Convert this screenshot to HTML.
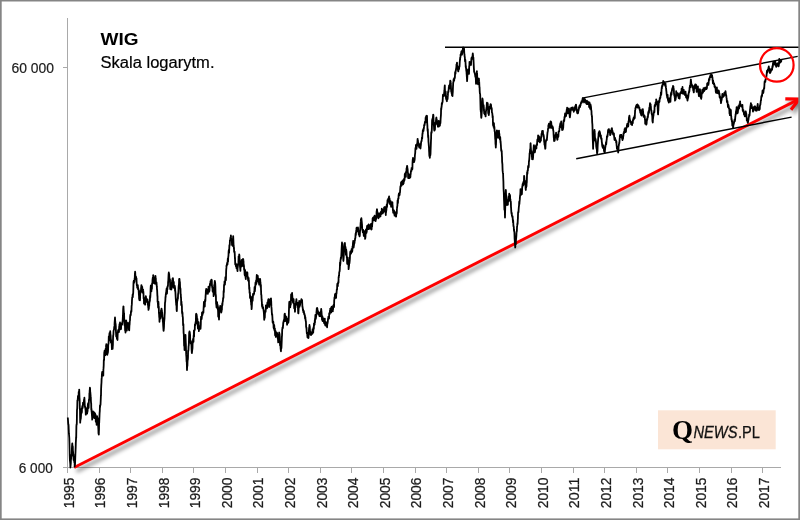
<!DOCTYPE html>
<html lang="pl"><head><meta charset="utf-8"><title>WIG - Skala logarytm.</title>
<style>
html,body{margin:0;padding:0;background:#fff;}
body{width:800px;height:520px;overflow:hidden;position:relative;font-family:"Liberation Sans",sans-serif;}
svg{position:absolute;left:0;top:0;display:block;}
.frame{position:absolute;left:0;top:0;width:800px;height:520px;box-sizing:border-box;border:1.5px solid #868686;border-right-width:2px;pointer-events:none;}
</style></head><body>
<svg width="800" height="520" viewBox="0 0 800 520" font-family="Liberation Sans, sans-serif">
<defs>
<filter id="sh" x="-5%" y="-5%" width="110%" height="115%"><feGaussianBlur stdDeviation="2"/></filter>
</defs>
<rect width="800" height="520" fill="#fff"/>
<!-- axes -->
<g stroke="#a9a9a9" stroke-width="1" fill="none" shape-rendering="crispEdges">
<line x1="67.5" y1="18" x2="67.5" y2="467.5"/>
<line x1="67" y1="467" x2="781" y2="467"/>
<line x1="63" y1="67" x2="67.5" y2="67"/>
<line x1="63" y1="467" x2="67.5" y2="467"/>
<line x1="67.5" y1="467" x2="67.5" y2="472.5"/><line x1="99.1" y1="467" x2="99.1" y2="472.5"/><line x1="130.7" y1="467" x2="130.7" y2="472.5"/><line x1="162.3" y1="467" x2="162.3" y2="472.5"/><line x1="193.9" y1="467" x2="193.9" y2="472.5"/><line x1="225.5" y1="467" x2="225.5" y2="472.5"/><line x1="257.1" y1="467" x2="257.1" y2="472.5"/><line x1="288.7" y1="467" x2="288.7" y2="472.5"/><line x1="320.3" y1="467" x2="320.3" y2="472.5"/><line x1="351.9" y1="467" x2="351.9" y2="472.5"/><line x1="383.5" y1="467" x2="383.5" y2="472.5"/><line x1="415.1" y1="467" x2="415.1" y2="472.5"/><line x1="446.7" y1="467" x2="446.7" y2="472.5"/><line x1="478.3" y1="467" x2="478.3" y2="472.5"/><line x1="509.9" y1="467" x2="509.9" y2="472.5"/><line x1="541.5" y1="467" x2="541.5" y2="472.5"/><line x1="573.1" y1="467" x2="573.1" y2="472.5"/><line x1="604.7" y1="467" x2="604.7" y2="472.5"/><line x1="636.3" y1="467" x2="636.3" y2="472.5"/><line x1="667.9" y1="467" x2="667.9" y2="472.5"/><line x1="699.5" y1="467" x2="699.5" y2="472.5"/><line x1="731.1" y1="467" x2="731.1" y2="472.5"/><line x1="762.7" y1="467" x2="762.7" y2="472.5"/>
</g>
<g font-size="14.6" fill="#1c1c1c" stroke="#1c1c1c" stroke-width="0.25"><text transform="translate(73.7,508.3) rotate(-90)" textLength="30.8" lengthAdjust="spacingAndGlyphs">1995</text><text transform="translate(105.3,508.3) rotate(-90)" textLength="30.8" lengthAdjust="spacingAndGlyphs">1996</text><text transform="translate(136.9,508.3) rotate(-90)" textLength="30.8" lengthAdjust="spacingAndGlyphs">1997</text><text transform="translate(168.5,508.3) rotate(-90)" textLength="30.8" lengthAdjust="spacingAndGlyphs">1998</text><text transform="translate(200.1,508.3) rotate(-90)" textLength="30.8" lengthAdjust="spacingAndGlyphs">1999</text><text transform="translate(231.7,508.3) rotate(-90)" textLength="30.8" lengthAdjust="spacingAndGlyphs">2000</text><text transform="translate(263.3,508.3) rotate(-90)" textLength="30.8" lengthAdjust="spacingAndGlyphs">2001</text><text transform="translate(294.9,508.3) rotate(-90)" textLength="30.8" lengthAdjust="spacingAndGlyphs">2002</text><text transform="translate(326.5,508.3) rotate(-90)" textLength="30.8" lengthAdjust="spacingAndGlyphs">2003</text><text transform="translate(358.1,508.3) rotate(-90)" textLength="30.8" lengthAdjust="spacingAndGlyphs">2004</text><text transform="translate(389.7,508.3) rotate(-90)" textLength="30.8" lengthAdjust="spacingAndGlyphs">2005</text><text transform="translate(421.3,508.3) rotate(-90)" textLength="30.8" lengthAdjust="spacingAndGlyphs">2006</text><text transform="translate(452.9,508.3) rotate(-90)" textLength="30.8" lengthAdjust="spacingAndGlyphs">2007</text><text transform="translate(484.5,508.3) rotate(-90)" textLength="30.8" lengthAdjust="spacingAndGlyphs">2008</text><text transform="translate(516.1,508.3) rotate(-90)" textLength="30.8" lengthAdjust="spacingAndGlyphs">2009</text><text transform="translate(547.7,508.3) rotate(-90)" textLength="30.8" lengthAdjust="spacingAndGlyphs">2010</text><text transform="translate(579.3,508.3) rotate(-90)" textLength="30.8" lengthAdjust="spacingAndGlyphs">2011</text><text transform="translate(610.9,508.3) rotate(-90)" textLength="30.8" lengthAdjust="spacingAndGlyphs">2012</text><text transform="translate(642.5,508.3) rotate(-90)" textLength="30.8" lengthAdjust="spacingAndGlyphs">2013</text><text transform="translate(674.1,508.3) rotate(-90)" textLength="30.8" lengthAdjust="spacingAndGlyphs">2014</text><text transform="translate(705.7,508.3) rotate(-90)" textLength="30.8" lengthAdjust="spacingAndGlyphs">2015</text><text transform="translate(737.3,508.3) rotate(-90)" textLength="30.8" lengthAdjust="spacingAndGlyphs">2016</text><text transform="translate(768.9,508.3) rotate(-90)" textLength="30.8" lengthAdjust="spacingAndGlyphs">2017</text></g>
<g font-size="14" fill="#1c1c1c" stroke="#1c1c1c" stroke-width="0.2">
<text x="11.5" y="73.2" textLength="42.5" lengthAdjust="spacingAndGlyphs">60 000</text>
<text x="18.8" y="473.2" textLength="34" lengthAdjust="spacingAndGlyphs">6 000</text>
</g>
<text x="100.5" y="44.5" font-size="16.8" font-weight="bold" fill="#000" textLength="38" lengthAdjust="spacingAndGlyphs">WIG</text>
<text x="100.5" y="68.3" font-size="17.3" fill="#000" stroke="#000" stroke-width="0.2" textLength="114" lengthAdjust="spacingAndGlyphs">Skala logarytm.</text>
<!-- logo -->
<rect x="658" y="410.3" width="117.7" height="39" fill="#fbe5d6"/>
<text x="672" y="439" font-family="Liberation Serif, serif" font-weight="bold" font-size="26.5" fill="#000" textLength="21" lengthAdjust="spacingAndGlyphs">Q</text>
<text x="693.5" y="438.2" font-style="italic" font-size="16.2" fill="#111" stroke="#111" stroke-width="0.3" textLength="44" lengthAdjust="spacingAndGlyphs">NEWS</text>
<text x="738" y="438.2" font-size="16.2" fill="#111" stroke="#111" stroke-width="0.25" textLength="22" lengthAdjust="spacingAndGlyphs">.PL</text>
<!-- red trend w/ shadow -->
<g transform="translate(2.4,3.6)" stroke="#000" stroke-opacity="0.48" stroke-width="3" fill="none" filter="url(#sh)">
<line x1="74.2" y1="467.5" x2="798.5" y2="99.3"/>
<polyline points="785.3,98.8 799.3,99.1 791,109.8" stroke-linejoin="miter"/>
</g>
<g stroke="#fe0000" stroke-width="2.9" fill="none" stroke-linecap="butt" stroke-linejoin="miter">
<line x1="74.2" y1="467.5" x2="797.5" y2="99.9"/>
<polyline points="785.3,98.8 799.3,99.1 791,109.8" stroke-width="3.2"/>
</g>
<!-- trend lines -->
<g stroke="#000" stroke-width="1.4" fill="none">
<line x1="445" y1="47.2" x2="800" y2="47.2"/>
<line x1="582" y1="98.1" x2="797.7" y2="56.4"/>
<line x1="576.2" y1="158.8" x2="791.6" y2="117.1"/>
</g>
<!-- price -->
<path d="M67.8,417.5 L67.9,418.9 L68.1,421.8 L68.2,423.2 L68.3,424.5 L68.5,424.5 L68.6,426.0 L68.7,429.1 L68.8,430.8 L68.9,433.7 L69.1,435.1 L69.2,436.8 L69.3,438.0 L69.4,441.5 L69.6,450.0 L69.7,455.2 L69.9,460.4 L70.0,461.2 L70.1,461.9 L70.3,464.3 L70.4,467.5 L70.5,466.3 L70.7,464.3 L70.8,463.5 L70.9,460.4 L71.0,459.2 L71.2,458.2 L71.3,455.0 L71.4,456.4 L71.5,455.5 L71.7,455.9 L71.8,452.7 L71.9,449.2 L72.0,446.5 L72.2,444.2 L72.3,443.5 L72.4,445.7 L72.5,446.4 L72.7,446.2 L72.8,446.8 L72.9,450.9 L73.0,450.9 L73.1,453.1 L73.3,455.6 L73.4,454.2 L73.5,456.0 L73.6,460.0 L73.7,457.3 L73.9,458.0 L74.0,459.1 L74.1,458.8 L74.2,461.2 L74.3,462.4 L74.5,460.8 L74.6,463.8 L74.7,466.5 L74.8,465.2 L75.0,465.0 L75.1,462.6 L75.2,459.7 L75.4,453.9 L75.5,452.0 L75.6,449.3 L75.7,446.9 L75.8,442.9 L76.0,439.5 L76.1,436.9 L76.2,438.0 L76.3,431.5 L76.4,426.1 L76.6,424.1 L76.7,424.6 L76.8,423.3 L76.9,417.0 L77.0,409.9 L77.2,408.5 L77.3,404.9 L77.4,400.5 L77.5,400.4 L77.7,400.5 L77.8,398.7 L77.9,397.0 L78.0,395.8 L78.2,396.9 L78.3,396.0 L78.4,396.0 L78.6,396.1 L78.7,392.0 L78.8,393.6 L78.9,394.5 L79.1,394.5 L79.2,389.6 L79.3,392.4 L79.5,398.3 L79.6,398.7 L79.7,402.5 L79.8,408.6 L80.0,410.1 L80.1,417.5 L80.2,422.7 L80.3,420.8 L80.5,419.8 L80.6,419.5 L80.7,418.1 L80.8,418.8 L81.0,415.9 L81.1,413.5 L81.2,413.9 L81.4,412.4 L81.5,409.0 L81.6,410.4 L81.7,412.9 L81.9,411.6 L82.0,408.3 L82.1,407.6 L82.2,406.9 L82.4,405.8 L82.5,408.2 L82.6,405.7 L82.7,407.7 L82.9,404.7 L83.0,402.7 L83.1,403.5 L83.2,404.4 L83.4,404.8 L83.5,404.1 L83.6,403.0 L83.8,402.0 L83.9,401.8 L84.0,400.1 L84.1,399.3 L84.3,399.1 L84.4,397.7 L84.5,399.7 L84.6,401.4 L84.8,405.9 L84.9,407.1 L85.0,406.7 L85.1,406.5 L85.3,407.0 L85.4,409.3 L85.5,409.2 L85.6,410.5 L85.8,414.7 L85.9,410.0 L86.0,408.3 L86.1,408.6 L86.2,409.2 L86.4,409.4 L86.5,408.4 L86.6,409.5 L86.8,409.8 L86.9,408.6 L87.0,413.2 L87.1,413.7 L87.2,412.4 L87.4,412.0 L87.5,411.4 L87.6,411.0 L87.8,405.4 L87.9,404.2 L88.0,406.0 L88.1,403.4 L88.2,403.1 L88.4,404.8 L88.5,406.3 L88.6,408.0 L88.8,403.2 L88.9,401.2 L89.0,399.2 L89.2,399.1 L89.3,400.0 L89.4,393.3 L89.5,394.2 L89.7,390.0 L89.8,390.0 L89.9,387.7 L90.1,388.7 L90.2,391.8 L90.3,392.1 L90.4,393.2 L90.6,395.5 L90.7,396.4 L90.8,396.9 L90.9,400.6 L91.1,403.4 L91.2,403.5 L91.3,410.0 L91.5,408.8 L91.6,411.6 L91.7,412.1 L91.8,413.4 L92.0,415.9 L92.1,417.3 L92.2,419.6 L92.3,417.6 L92.5,415.6 L92.6,417.9 L92.7,417.0 L92.8,414.6 L93.0,411.3 L93.1,413.4 L93.2,414.6 L93.3,417.1 L93.5,414.9 L93.6,414.5 L93.7,411.9 L93.8,413.0 L94.0,415.8 L94.1,413.7 L94.2,416.4 L94.3,418.0 L94.5,417.3 L94.6,413.0 L94.7,415.5 L94.8,414.9 L95.0,413.4 L95.1,413.8 L95.2,414.3 L95.3,416.9 L95.5,414.6 L95.6,416.5 L95.7,419.1 L95.8,421.7 L96.0,420.9 L96.1,419.1 L96.2,420.8 L96.3,421.3 L96.5,421.7 L96.6,424.8 L96.7,424.5 L96.8,420.2 L97.0,419.6 L97.1,416.2 L97.2,418.0 L97.4,418.9 L97.5,417.9 L97.6,418.2 L97.8,420.3 L97.9,420.8 L98.0,423.8 L98.1,424.1 L98.2,426.5 L98.4,429.9 L98.5,433.4 L98.6,432.5 L98.8,434.6 L98.9,431.2 L99.0,429.4 L99.1,423.2 L99.2,423.0 L99.4,418.2 L99.5,415.8 L99.6,413.1 L99.8,410.8 L99.9,407.3 L100.0,405.4 L100.1,407.2 L100.2,405.5 L100.4,404.7 L100.5,404.9 L100.6,402.7 L100.8,398.4 L100.9,395.5 L101.0,395.8 L101.1,389.3 L101.3,384.9 L101.4,383.8 L101.5,382.2 L101.6,379.0 L101.8,377.4 L101.9,374.6 L102.0,373.6 L102.2,371.9 L102.3,372.0 L102.4,375.3 L102.5,375.5 L102.7,375.1 L102.8,375.0 L102.9,373.3 L103.0,374.4 L103.2,373.5 L103.3,375.6 L103.4,369.3 L103.5,368.4 L103.7,365.5 L103.8,360.0 L103.9,360.8 L104.1,359.7 L104.2,354.6 L104.3,352.3 L104.4,352.2 L104.6,350.7 L104.7,351.7 L104.8,352.6 L104.9,353.3 L105.1,353.3 L105.2,355.4 L105.3,355.2 L105.5,354.5 L105.6,348.8 L105.7,349.0 L105.8,350.0 L106.0,347.9 L106.1,345.4 L106.2,347.7 L106.3,344.1 L106.5,344.9 L106.6,349.6 L106.7,347.6 L106.8,348.8 L107.0,352.5 L107.1,352.1 L107.2,353.1 L107.3,354.8 L107.5,352.9 L107.6,352.5 L107.7,353.0 L107.8,353.1 L108.0,351.5 L108.1,349.6 L108.2,346.0 L108.3,343.8 L108.5,344.0 L108.6,342.7 L108.7,339.5 L108.8,336.3 L109.0,340.1 L109.1,340.8 L109.2,340.6 L109.4,333.9 L109.5,333.6 L109.6,333.0 L109.7,334.8 L109.9,334.2 L110.0,332.5 L110.1,334.3 L110.2,331.2 L110.4,334.0 L110.5,335.4 L110.6,334.8 L110.8,338.2 L110.9,342.6 L111.0,340.6 L111.1,340.0 L111.2,341.4 L111.4,342.5 L111.5,342.5 L111.6,341.3 L111.8,346.3 L111.9,349.1 L112.0,347.5 L112.1,343.5 L112.2,345.6 L112.4,346.3 L112.5,348.6 L112.6,348.9 L112.8,345.9 L112.9,345.1 L113.0,339.4 L113.1,336.6 L113.2,335.2 L113.4,334.9 L113.5,332.2 L113.6,330.6 L113.8,330.2 L113.9,329.7 L114.0,329.6 L114.1,328.8 L114.2,326.8 L114.4,327.1 L114.5,325.9 L114.6,322.9 L114.8,320.3 L114.9,319.0 L115.0,317.5 L115.1,319.5 L115.2,321.2 L115.4,323.2 L115.5,324.6 L115.6,323.7 L115.8,326.2 L115.9,330.0 L116.0,332.6 L116.1,333.8 L116.2,336.4 L116.4,336.1 L116.5,334.0 L116.6,335.8 L116.8,335.6 L116.9,338.8 L117.0,338.3 L117.1,334.7 L117.2,334.3 L117.4,339.1 L117.5,340.0 L117.6,335.7 L117.8,332.6 L117.9,332.0 L118.0,331.5 L118.1,330.2 L118.2,331.6 L118.4,331.5 L118.5,329.8 L118.6,329.4 L118.8,331.2 L118.9,331.5 L119.0,332.0 L119.1,328.3 L119.2,326.4 L119.4,326.3 L119.5,324.1 L119.6,324.7 L119.8,324.3 L119.9,324.5 L120.0,322.5 L120.1,326.5 L120.2,327.8 L120.4,326.3 L120.5,325.4 L120.6,329.4 L120.8,327.6 L120.9,328.3 L121.0,329.1 L121.1,328.0 L121.2,324.6 L121.4,323.8 L121.5,323.4 L121.6,324.6 L121.8,325.0 L121.9,324.0 L122.0,324.6 L122.1,324.5 L122.2,323.8 L122.4,322.8 L122.5,321.2 L122.6,321.5 L122.8,318.3 L122.9,315.9 L123.0,314.8 L123.1,310.7 L123.2,308.8 L123.4,306.3 L123.5,306.5 L123.6,309.2 L123.8,311.9 L123.9,313.4 L124.0,314.5 L124.1,313.3 L124.2,318.5 L124.4,321.1 L124.5,324.9 L124.6,324.7 L124.8,325.9 L124.9,323.8 L125.0,327.0 L125.1,330.4 L125.2,328.2 L125.4,329.7 L125.5,332.5 L125.6,329.2 L125.8,325.8 L125.9,324.0 L126.0,323.0 L126.1,320.4 L126.2,320.7 L126.4,321.5 L126.5,323.0 L126.6,324.7 L126.8,327.9 L126.9,330.5 L127.0,328.2 L127.1,327.4 L127.2,325.6 L127.4,323.7 L127.5,323.8 L127.6,324.7 L127.8,326.7 L127.9,324.5 L128.0,323.0 L128.1,324.0 L128.2,324.6 L128.4,324.9 L128.5,325.8 L128.6,325.3 L128.8,327.6 L128.9,329.3 L129.0,330.2 L129.1,329.8 L129.2,330.4 L129.4,326.0 L129.5,325.0 L129.6,324.5 L129.8,320.8 L129.9,320.6 L130.0,320.3 L130.1,316.9 L130.2,315.8 L130.4,314.6 L130.5,314.9 L130.6,315.5 L130.8,314.8 L130.9,312.5 L131.0,311.5 L131.1,310.8 L131.2,311.6 L131.4,311.6 L131.5,309.6 L131.6,306.2 L131.8,304.9 L131.9,302.8 L132.0,299.9 L132.1,299.1 L132.2,297.5 L132.4,297.1 L132.5,297.5 L132.6,294.7 L132.8,297.3 L132.9,294.6 L133.0,294.8 L133.1,293.1 L133.2,293.3 L133.4,286.5 L133.5,283.0 L133.6,281.5 L133.8,280.7 L133.9,283.3 L134.0,281.9 L134.1,282.5 L134.2,282.0 L134.4,281.9 L134.5,280.9 L134.6,278.6 L134.8,277.6 L134.9,273.4 L135.0,273.8 L135.1,271.7 L135.2,272.2 L135.4,276.4 L135.5,276.0 L135.6,276.0 L135.8,278.3 L135.9,278.4 L136.0,276.7 L136.1,277.2 L136.2,278.4 L136.4,279.8 L136.5,278.3 L136.6,281.7 L136.8,285.1 L136.9,285.1 L137.0,285.6 L137.1,284.8 L137.2,287.6 L137.4,286.2 L137.5,287.5 L137.6,286.5 L137.8,285.1 L137.9,286.6 L138.0,289.2 L138.1,289.2 L138.2,287.8 L138.4,289.4 L138.5,289.3 L138.6,290.0 L138.8,293.0 L138.9,295.2 L139.0,294.2 L139.1,298.8 L139.2,298.8 L139.4,300.1 L139.5,298.5 L139.6,298.2 L139.8,294.5 L139.9,297.8 L140.0,300.3 L140.1,297.6 L140.2,294.4 L140.4,290.9 L140.5,293.0 L140.6,291.8 L140.8,291.5 L140.9,290.6 L141.0,290.1 L141.1,287.7 L141.2,287.5 L141.4,285.1 L141.5,285.4 L141.6,286.5 L141.8,287.9 L141.9,287.9 L142.0,286.6 L142.1,287.3 L142.2,286.8 L142.4,290.4 L142.5,292.4 L142.6,292.7 L142.8,292.2 L142.9,291.3 L143.0,289.9 L143.1,289.6 L143.2,290.7 L143.4,292.2 L143.5,293.8 L143.6,298.4 L143.8,297.5 L143.9,297.8 L144.0,303.6 L144.1,300.2 L144.2,299.4 L144.4,300.0 L144.5,300.6 L144.6,301.7 L144.8,301.4 L144.9,302.4 L145.0,302.8 L145.1,304.6 L145.2,301.1 L145.4,299.6 L145.5,299.8 L145.6,298.0 L145.8,296.2 L145.9,297.7 L146.0,296.7 L146.1,298.2 L146.2,300.0 L146.4,300.8 L146.5,301.9 L146.6,301.8 L146.8,299.2 L146.9,299.2 L147.0,300.3 L147.1,299.4 L147.2,299.3 L147.4,301.0 L147.5,299.3 L147.6,300.8 L147.8,304.6 L147.9,303.7 L148.0,304.1 L148.1,303.9 L148.2,307.2 L148.4,307.9 L148.5,309.9 L148.6,308.6 L148.8,308.8 L148.9,307.8 L149.0,303.3 L149.1,305.3 L149.2,306.2 L149.4,301.8 L149.5,302.4 L149.6,301.2 L149.8,301.2 L149.9,301.0 L150.0,297.1 L150.1,295.7 L150.2,297.8 L150.4,295.7 L150.5,292.8 L150.6,289.1 L150.8,285.8 L150.9,285.5 L151.0,288.0 L151.1,287.9 L151.2,287.5 L151.4,291.4 L151.5,289.8 L151.6,287.9 L151.8,288.4 L151.9,288.9 L152.0,286.3 L152.1,283.4 L152.2,283.4 L152.4,283.4 L152.5,280.2 L152.6,279.2 L152.8,277.6 L152.9,278.0 L153.0,277.2 L153.1,276.4 L153.2,275.2 L153.4,276.7 L153.5,278.9 L153.6,277.6 L153.8,278.8 L153.9,277.6 L154.0,278.0 L154.1,279.9 L154.2,283.2 L154.4,282.8 L154.5,283.0 L154.6,283.7 L154.8,281.0 L154.9,281.4 L155.0,280.3 L155.1,281.4 L155.2,279.5 L155.4,275.8 L155.5,276.2 L155.6,278.1 L155.8,278.3 L155.9,281.3 L156.0,282.1 L156.1,282.1 L156.2,284.4 L156.4,282.6 L156.5,282.5 L156.6,283.7 L156.8,286.7 L156.9,287.7 L157.0,289.6 L157.1,289.6 L157.2,291.5 L157.4,296.1 L157.5,296.0 L157.6,302.0 L157.8,302.0 L157.9,303.4 L158.0,305.0 L158.1,307.5 L158.2,305.4 L158.4,301.7 L158.5,303.3 L158.6,305.4 L158.8,307.0 L158.9,312.7 L159.0,313.6 L159.1,314.5 L159.2,316.8 L159.4,318.0 L159.5,321.8 L159.6,319.7 L159.8,319.4 L159.9,312.9 L160.0,315.0 L160.1,313.5 L160.2,314.7 L160.4,318.3 L160.5,317.6 L160.6,316.4 L160.8,314.6 L160.9,312.3 L161.0,310.3 L161.1,310.9 L161.2,310.2 L161.4,309.7 L161.5,308.6 L161.6,309.7 L161.8,310.0 L161.9,310.7 L162.0,313.0 L162.1,313.7 L162.2,312.4 L162.4,316.3 L162.5,318.3 L162.6,317.4 L162.8,320.5 L162.9,322.2 L163.0,320.1 L163.1,324.3 L163.2,326.0 L163.4,328.8 L163.5,330.1 L163.6,330.8 L163.8,328.8 L163.9,328.3 L164.0,326.1 L164.1,323.1 L164.2,321.5 L164.4,319.3 L164.5,318.3 L164.6,315.2 L164.8,312.8 L164.9,306.2 L165.0,303.0 L165.1,302.0 L165.2,302.3 L165.4,299.3 L165.5,296.7 L165.6,297.5 L165.8,294.5 L165.9,293.6 L166.0,294.7 L166.1,292.4 L166.2,292.5 L166.4,290.2 L166.5,289.8 L166.6,288.8 L166.8,288.1 L166.9,289.5 L167.0,293.5 L167.1,291.3 L167.2,289.3 L167.4,289.4 L167.5,286.4 L167.6,286.6 L167.8,286.8 L167.9,285.4 L168.0,285.6 L168.1,281.7 L168.2,282.3 L168.4,278.4 L168.5,276.1 L168.6,274.2 L168.8,272.5 L168.9,274.3 L169.0,274.5 L169.1,273.7 L169.2,274.9 L169.4,278.1 L169.5,278.1 L169.6,278.9 L169.8,281.4 L169.9,282.0 L170.0,279.5 L170.1,284.5 L170.2,289.0 L170.4,285.0 L170.5,285.0 L170.6,285.9 L170.8,288.0 L170.9,289.4 L171.0,289.0 L171.1,287.0 L171.2,287.3 L171.4,289.5 L171.5,287.5 L171.6,285.5 L171.8,285.6 L171.9,281.8 L172.0,281.4 L172.1,280.7 L172.2,281.7 L172.4,280.4 L172.5,278.8 L172.6,278.5 L172.8,279.0 L172.9,278.2 L173.0,278.8 L173.1,280.8 L173.2,283.7 L173.4,287.7 L173.5,286.7 L173.6,286.4 L173.8,282.0 L173.9,286.3 L174.0,285.4 L174.1,285.9 L174.2,287.5 L174.4,285.7 L174.5,287.6 L174.6,288.5 L174.8,285.8 L174.9,287.4 L175.0,290.7 L175.1,287.9 L175.2,290.5 L175.4,291.9 L175.5,293.8 L175.6,295.6 L175.8,299.2 L175.9,299.7 L176.0,302.4 L176.1,302.5 L176.2,304.9 L176.4,304.3 L176.5,305.0 L176.6,309.4 L176.8,311.2 L176.9,309.3 L177.0,305.3 L177.1,302.1 L177.2,300.8 L177.4,301.0 L177.5,300.2 L177.6,299.6 L177.8,297.8 L177.9,298.9 L178.0,296.4 L178.1,293.7 L178.2,293.8 L178.4,292.2 L178.5,290.0 L178.6,287.2 L178.8,285.0 L178.9,284.6 L179.0,283.6 L179.1,279.6 L179.2,278.8 L179.4,280.0 L179.5,279.0 L179.6,281.4 L179.8,281.8 L179.9,282.0 L180.0,284.6 L180.1,288.1 L180.2,287.7 L180.4,289.5 L180.5,288.7 L180.6,294.2 L180.8,294.1 L180.9,297.5 L181.0,297.1 L181.1,299.6 L181.2,305.0 L181.4,301.4 L181.5,302.0 L181.6,304.5 L181.8,305.7 L181.9,305.9 L182.0,311.6 L182.1,313.3 L182.2,311.5 L182.4,314.6 L182.5,312.7 L182.6,316.4 L182.8,316.7 L182.9,318.5 L183.0,322.5 L183.1,325.3 L183.2,325.0 L183.4,324.2 L183.5,329.1 L183.6,333.1 L183.8,334.0 L183.9,338.3 L184.0,341.8 L184.1,345.7 L184.2,343.7 L184.4,345.7 L184.5,350.0 L184.6,349.3 L184.8,348.9 L184.9,341.9 L185.0,340.1 L185.1,338.9 L185.2,341.9 L185.4,337.8 L185.5,335.0 L185.6,338.0 L185.8,342.7 L185.9,344.8 L186.0,350.0 L186.1,351.4 L186.2,354.9 L186.4,356.8 L186.5,360.0 L186.6,361.6 L186.8,361.3 L186.9,366.5 L187.0,370.0 L187.1,367.1 L187.2,365.8 L187.4,366.0 L187.5,362.3 L187.6,360.4 L187.8,359.7 L187.9,359.0 L188.0,356.6 L188.1,350.6 L188.2,351.4 L188.4,350.3 L188.5,348.6 L188.6,346.3 L188.8,345.1 L188.9,342.5 L189.0,338.7 L189.1,335.4 L189.2,332.5 L189.4,332.4 L189.5,331.3 L189.6,333.7 L189.8,332.2 L189.9,334.7 L190.0,333.8 L190.1,335.7 L190.2,339.6 L190.4,341.2 L190.5,340.9 L190.6,342.1 L190.8,343.6 L190.9,341.3 L191.0,341.2 L191.1,342.7 L191.2,342.9 L191.4,344.2 L191.5,346.8 L191.6,349.5 L191.8,352.5 L191.9,353.1 L192.0,351.9 L192.1,351.3 L192.2,350.1 L192.4,348.9 L192.5,347.9 L192.6,343.9 L192.8,342.6 L192.9,342.0 L193.0,339.4 L193.1,338.8 L193.2,339.2 L193.4,338.3 L193.5,341.8 L193.6,336.0 L193.8,335.0 L193.9,330.6 L194.0,331.9 L194.1,336.5 L194.2,330.8 L194.4,330.4 L194.5,330.7 L194.6,329.4 L194.8,329.8 L194.9,324.6 L195.0,325.6 L195.1,325.6 L195.2,325.0 L195.4,323.1 L195.5,323.7 L195.6,322.0 L195.8,321.7 L195.9,320.0 L196.0,314.8 L196.1,314.0 L196.2,313.8 L196.4,315.6 L196.5,314.2 L196.6,314.5 L196.8,316.0 L196.9,316.7 L197.0,319.5 L197.1,323.8 L197.2,322.3 L197.4,318.8 L197.5,320.9 L197.6,324.3 L197.8,326.5 L197.9,328.5 L198.0,327.6 L198.1,326.5 L198.2,328.6 L198.4,327.1 L198.5,323.8 L198.6,322.2 L198.8,327.5 L198.9,331.2 L199.0,329.6 L199.1,328.0 L199.2,328.3 L199.4,326.6 L199.5,329.1 L199.6,328.7 L199.8,326.4 L199.9,328.8 L200.0,327.5 L200.1,328.2 L200.2,328.4 L200.4,328.0 L200.5,328.9 L200.6,327.8 L200.8,324.4 L200.9,320.2 L201.0,317.9 L201.1,316.6 L201.2,316.8 L201.4,317.2 L201.5,318.6 L201.6,319.1 L201.8,317.7 L201.9,316.5 L202.0,312.6 L202.1,312.5 L202.2,313.7 L202.4,315.0 L202.5,315.0 L202.6,313.3 L202.8,313.8 L202.9,312.4 L203.0,312.5 L203.1,312.3 L203.2,311.4 L203.4,312.6 L203.5,310.1 L203.6,308.0 L203.8,305.0 L203.9,302.0 L204.0,303.7 L204.1,305.9 L204.2,304.6 L204.4,304.3 L204.5,305.3 L204.6,305.5 L204.8,306.6 L204.9,302.7 L205.0,300.0 L205.1,299.8 L205.2,301.5 L205.4,300.5 L205.5,297.7 L205.6,295.8 L205.8,293.3 L205.9,290.5 L206.0,292.3 L206.1,289.9 L206.2,288.8 L206.4,292.0 L206.5,293.2 L206.6,292.7 L206.8,290.3 L206.9,290.0 L207.0,292.1 L207.1,292.2 L207.2,293.6 L207.4,292.6 L207.5,292.5 L207.6,291.5 L207.8,291.8 L207.9,293.8 L208.0,290.4 L208.1,289.7 L208.2,289.6 L208.4,287.9 L208.5,286.7 L208.6,287.7 L208.8,291.1 L208.9,291.8 L209.0,291.9 L209.1,288.2 L209.2,291.5 L209.4,291.0 L209.5,290.4 L209.6,287.6 L209.8,286.9 L209.9,284.1 L210.0,283.7 L210.1,284.1 L210.2,283.5 L210.4,283.5 L210.5,281.2 L210.6,284.9 L210.8,284.4 L210.9,281.5 L211.0,281.9 L211.1,281.2 L211.2,279.9 L211.4,280.0 L211.5,281.3 L211.6,279.7 L211.8,280.3 L211.9,283.9 L212.0,286.0 L212.1,286.5 L212.2,287.5 L212.4,288.1 L212.5,288.8 L212.6,291.1 L212.8,291.8 L212.9,287.9 L213.0,288.8 L213.1,287.9 L213.2,290.1 L213.4,289.8 L213.5,291.0 L213.6,296.2 L213.8,295.0 L213.9,293.7 L214.0,291.7 L214.1,287.9 L214.2,285.0 L214.4,286.6 L214.5,286.2 L214.6,283.2 L214.8,280.9 L214.9,282.9 L215.0,282.0 L215.1,282.0 L215.2,283.3 L215.4,286.7 L215.5,291.3 L215.6,294.0 L215.8,295.0 L215.9,296.1 L216.0,300.4 L216.1,303.9 L216.2,304.0 L216.4,305.6 L216.5,306.9 L216.6,307.6 L216.8,307.3 L216.9,305.4 L217.0,305.0 L217.1,302.2 L217.2,305.0 L217.4,306.4 L217.5,304.3 L217.6,307.4 L217.8,309.5 L217.9,306.0 L218.0,310.0 L218.1,311.9 L218.2,316.4 L218.4,314.2 L218.5,315.6 L218.6,316.8 L218.8,317.5 L218.9,317.6 L219.0,319.5 L219.1,316.3 L219.2,313.6 L219.4,310.6 L219.5,309.2 L219.6,307.8 L219.8,308.3 L219.9,308.6 L220.0,308.5 L220.1,306.9 L220.2,305.8 L220.4,307.5 L220.5,308.8 L220.6,308.7 L220.8,307.9 L220.9,310.8 L221.0,309.3 L221.1,310.4 L221.2,312.5 L221.4,311.1 L221.5,312.0 L221.6,308.9 L221.8,310.1 L221.9,309.7 L222.0,305.7 L222.1,306.2 L222.2,303.6 L222.4,305.3 L222.5,303.2 L222.6,302.0 L222.8,301.7 L222.9,300.3 L223.0,300.0 L223.1,298.0 L223.2,298.5 L223.4,297.7 L223.5,297.3 L223.6,291.0 L223.8,292.5 L223.9,291.1 L224.0,286.1 L224.1,284.9 L224.2,284.4 L224.4,285.1 L224.5,281.5 L224.6,283.1 L224.8,281.4 L224.9,284.7 L225.0,283.0 L225.1,282.9 L225.2,280.7 L225.4,277.1 L225.5,277.8 L225.6,278.2 L225.8,279.8 L225.9,280.1 L226.0,277.5 L226.1,272.7 L226.2,270.0 L226.4,267.9 L226.5,265.5 L226.6,265.9 L226.8,265.8 L226.9,264.5 L227.0,264.1 L227.1,263.0 L227.2,262.7 L227.4,263.4 L227.5,264.5 L227.6,262.4 L227.8,258.6 L227.9,260.7 L228.0,260.2 L228.1,261.6 L228.2,257.6 L228.4,256.2 L228.5,255.4 L228.6,251.8 L228.8,250.0 L228.9,250.1 L229.0,250.8 L229.1,252.6 L229.2,249.5 L229.4,245.4 L229.5,245.0 L229.6,245.5 L229.8,244.5 L229.9,240.5 L230.0,240.7 L230.1,240.9 L230.2,240.6 L230.4,238.3 L230.5,237.5 L230.6,239.5 L230.8,238.8 L230.9,235.5 L231.0,236.6 L231.1,237.9 L231.2,238.4 L231.4,240.6 L231.5,239.8 L231.6,240.0 L231.8,239.8 L231.9,241.4 L232.0,245.0 L232.1,242.5 L232.2,244.6 L232.4,245.7 L232.5,245.3 L232.6,244.4 L232.8,246.0 L232.9,243.6 L233.0,241.4 L233.1,237.3 L233.2,236.2 L233.4,240.5 L233.5,243.2 L233.6,245.7 L233.8,246.9 L233.9,248.8 L234.0,247.6 L234.1,251.3 L234.2,252.1 L234.4,251.5 L234.5,251.6 L234.6,251.6 L234.8,254.9 L234.9,258.6 L235.0,257.5 L235.1,260.9 L235.2,264.3 L235.4,264.7 L235.5,263.3 L235.6,263.3 L235.8,263.6 L235.9,265.9 L236.0,266.7 L236.1,264.3 L236.2,266.3 L236.4,264.8 L236.5,268.2 L236.6,267.3 L236.8,267.5 L236.9,265.8 L237.0,264.8 L237.1,267.4 L237.2,269.2 L237.4,270.4 L237.5,271.1 L237.6,268.1 L237.8,267.1 L237.9,266.0 L238.0,264.1 L238.1,265.2 L238.2,263.7 L238.4,262.4 L238.5,260.3 L238.6,256.3 L238.8,257.5 L238.9,260.5 L239.0,261.2 L239.1,259.6 L239.2,254.5 L239.4,255.2 L239.5,258.0 L239.6,258.9 L239.8,261.1 L239.9,264.5 L240.0,267.1 L240.1,266.5 L240.2,269.0 L240.4,270.9 L240.5,268.1 L240.6,267.7 L240.8,265.2 L240.9,265.3 L241.0,266.8 L241.1,265.0 L241.2,261.2 L241.4,262.6 L241.5,262.1 L241.6,263.7 L241.8,259.8 L241.9,260.7 L242.0,263.5 L242.1,266.3 L242.2,264.6 L242.4,263.9 L242.5,262.3 L242.6,263.0 L242.8,263.8 L242.9,262.7 L243.0,258.8 L243.1,260.2 L243.2,259.2 L243.4,260.5 L243.5,261.0 L243.6,264.2 L243.8,266.4 L243.9,265.5 L244.0,266.2 L244.1,269.7 L244.2,268.5 L244.4,269.4 L244.5,271.7 L244.6,274.2 L244.8,275.2 L244.9,272.6 L245.0,270.0 L245.1,270.6 L245.2,271.5 L245.4,276.7 L245.5,275.1 L245.6,277.5 L245.8,279.1 L245.9,275.9 L246.0,274.3 L246.1,274.8 L246.2,273.9 L246.4,273.7 L246.5,274.7 L246.6,273.2 L246.8,274.3 L246.9,273.1 L247.0,272.1 L247.1,273.3 L247.2,272.3 L247.4,272.9 L247.5,276.2 L247.6,276.6 L247.8,276.6 L247.9,278.4 L248.0,278.0 L248.1,280.5 L248.2,278.2 L248.4,279.8 L248.5,279.1 L248.6,277.8 L248.8,281.6 L248.9,280.3 L249.0,284.1 L249.1,285.7 L249.2,288.9 L249.4,287.3 L249.5,290.0 L249.6,293.0 L249.8,292.8 L249.9,292.6 L250.0,297.6 L250.1,298.0 L250.2,297.2 L250.4,296.0 L250.5,297.0 L250.6,297.7 L250.8,298.1 L250.9,301.6 L251.0,301.0 L251.1,302.0 L251.2,305.0 L251.4,303.2 L251.5,305.4 L251.6,309.2 L251.8,306.7 L251.9,304.6 L252.0,302.7 L252.1,299.2 L252.2,300.3 L252.4,296.7 L252.5,297.9 L252.6,301.0 L252.8,297.9 L252.9,297.4 L253.0,293.8 L253.1,295.4 L253.2,294.0 L253.4,293.6 L253.5,293.8 L253.6,294.9 L253.8,294.3 L253.9,294.4 L254.0,293.4 L254.1,293.7 L254.2,291.5 L254.4,291.7 L254.5,287.9 L254.6,287.0 L254.8,290.9 L254.9,291.2 L255.0,288.8 L255.1,289.3 L255.2,287.3 L255.4,284.0 L255.5,282.5 L255.6,284.0 L255.8,284.8 L255.9,284.6 L256.0,282.7 L256.1,280.5 L256.2,283.2 L256.4,283.7 L256.5,281.8 L256.6,277.6 L256.8,274.9 L256.9,279.8 L257.0,277.5 L257.1,278.0 L257.2,279.0 L257.4,279.3 L257.5,279.4 L257.6,277.3 L257.8,275.8 L257.9,279.8 L258.0,278.9 L258.1,281.2 L258.2,278.4 L258.4,278.5 L258.5,279.6 L258.6,282.3 L258.8,280.7 L258.9,282.5 L259.0,283.9 L259.1,283.1 L259.2,284.6 L259.4,283.5 L259.5,282.5 L259.6,283.9 L259.8,279.9 L259.9,281.1 L260.0,280.5 L260.1,279.0 L260.2,279.6 L260.4,282.5 L260.5,283.1 L260.6,287.1 L260.8,286.2 L260.9,285.0 L261.0,289.5 L261.1,291.7 L261.2,295.0 L261.4,294.8 L261.5,297.5 L261.6,299.2 L261.8,301.5 L261.9,302.8 L262.0,306.1 L262.1,306.3 L262.2,305.9 L262.4,304.6 L262.5,307.9 L262.6,307.9 L262.8,307.3 L262.9,307.0 L263.0,307.5 L263.1,307.1 L263.2,308.5 L263.4,309.2 L263.5,310.1 L263.6,310.3 L263.8,312.1 L263.9,313.1 L264.0,315.1 L264.1,317.4 L264.2,319.8 L264.4,317.9 L264.5,318.8 L264.6,316.9 L264.8,317.7 L264.9,314.6 L265.0,312.8 L265.1,311.9 L265.2,310.8 L265.4,312.0 L265.5,310.7 L265.6,311.9 L265.8,308.9 L265.9,305.3 L266.0,306.9 L266.1,307.2 L266.2,307.5 L266.4,307.6 L266.5,308.3 L266.6,306.1 L266.8,307.6 L266.9,306.6 L267.0,308.1 L267.1,308.2 L267.2,304.7 L267.4,302.4 L267.5,304.2 L267.6,303.8 L267.8,303.0 L267.9,303.3 L268.0,302.5 L268.1,300.6 L268.2,299.9 L268.4,299.2 L268.5,300.8 L268.6,300.0 L268.8,302.2 L268.9,304.4 L269.0,306.4 L269.1,307.2 L269.2,306.5 L269.4,305.8 L269.5,304.6 L269.6,302.5 L269.8,301.4 L269.9,299.4 L270.0,301.2 L270.1,303.2 L270.2,303.6 L270.4,301.4 L270.5,302.4 L270.6,302.8 L270.8,302.0 L270.9,301.2 L271.0,298.4 L271.1,300.5 L271.2,301.4 L271.4,306.9 L271.5,307.9 L271.6,308.8 L271.8,312.3 L271.9,313.6 L272.0,315.0 L272.1,314.7 L272.2,314.1 L272.4,317.0 L272.5,319.0 L272.6,322.3 L272.8,322.1 L272.9,322.5 L273.0,321.4 L273.1,323.4 L273.2,321.4 L273.4,322.7 L273.5,324.9 L273.6,327.7 L273.8,326.4 L273.9,328.7 L274.0,327.8 L274.1,326.9 L274.2,325.0 L274.4,327.3 L274.5,330.4 L274.6,329.7 L274.8,328.8 L274.9,328.5 L275.0,333.1 L275.1,335.2 L275.2,334.6 L275.4,331.8 L275.5,331.0 L275.6,333.4 L275.8,336.9 L275.9,336.8 L276.0,335.9 L276.1,335.4 L276.2,332.5 L276.4,334.8 L276.5,333.7 L276.6,336.2 L276.8,334.0 L276.9,332.6 L277.0,333.8 L277.1,333.2 L277.2,335.3 L277.4,336.0 L277.5,334.8 L277.6,336.5 L277.8,338.7 L277.9,336.2 L278.0,340.0 L278.1,341.0 L278.2,342.4 L278.4,339.4 L278.5,338.3 L278.6,337.8 L278.8,339.8 L278.9,337.5 L279.0,336.1 L279.1,332.8 L279.2,332.5 L279.4,334.9 L279.5,333.7 L279.6,334.5 L279.8,337.1 L279.9,341.6 L280.0,344.5 L280.1,345.7 L280.2,345.5 L280.4,345.7 L280.5,346.3 L280.6,348.3 L280.8,350.0 L280.9,351.3 L281.0,350.3 L281.1,347.0 L281.2,348.1 L281.4,348.3 L281.5,346.9 L281.6,344.2 L281.8,339.5 L281.9,336.3 L282.0,336.3 L282.1,333.5 L282.2,329.7 L282.4,328.6 L282.5,327.5 L282.6,327.3 L282.8,327.1 L282.9,328.2 L283.0,325.5 L283.1,325.9 L283.2,322.9 L283.4,322.8 L283.5,321.8 L283.6,321.0 L283.8,321.3 L283.9,320.0 L284.0,320.6 L284.1,320.9 L284.2,319.8 L284.4,317.6 L284.5,315.0 L284.6,314.1 L284.8,313.7 L284.9,313.7 L285.0,318.7 L285.1,319.8 L285.2,321.1 L285.4,319.6 L285.5,318.4 L285.6,317.9 L285.8,318.2 L285.9,316.4 L286.0,319.1 L286.1,318.2 L286.2,320.0 L286.4,316.9 L286.5,317.8 L286.6,319.2 L286.8,320.4 L286.9,322.3 L287.0,323.7 L287.1,324.8 L287.2,322.5 L287.4,322.2 L287.5,319.1 L287.6,321.0 L287.8,322.4 L287.9,323.0 L288.0,322.5 L288.1,319.8 L288.2,321.2 L288.4,322.4 L288.5,320.5 L288.6,321.0 L288.8,316.5 L288.9,311.5 L289.0,308.9 L289.1,305.7 L289.2,303.0 L289.4,301.6 L289.5,305.0 L289.6,303.6 L289.8,303.4 L289.9,303.6 L290.0,303.3 L290.1,304.7 L290.2,307.4 L290.4,305.0 L290.5,305.0 L290.6,304.3 L290.8,304.7 L290.9,301.8 L291.0,298.6 L291.1,294.4 L291.2,295.0 L291.4,296.4 L291.5,297.6 L291.6,294.6 L291.8,295.0 L291.9,294.8 L292.0,293.5 L292.1,293.0 L292.2,295.2 L292.4,297.2 L292.5,298.2 L292.6,300.2 L292.8,300.2 L292.9,301.4 L293.0,302.5 L293.1,302.9 L293.2,302.3 L293.4,301.5 L293.5,300.8 L293.6,299.1 L293.8,302.4 L293.9,302.8 L294.0,303.0 L294.1,306.3 L294.2,308.2 L294.4,305.0 L294.5,305.7 L294.6,306.6 L294.8,309.3 L294.9,311.0 L295.0,311.8 L295.1,309.2 L295.2,307.2 L295.4,307.2 L295.5,307.5 L295.6,305.3 L295.8,304.1 L295.9,303.0 L296.0,302.6 L296.1,302.7 L296.2,301.7 L296.4,299.1 L296.5,300.8 L296.6,303.0 L296.8,302.4 L296.9,303.6 L297.0,303.9 L297.1,304.5 L297.2,304.9 L297.4,303.1 L297.5,303.6 L297.6,304.8 L297.8,302.8 L297.9,305.7 L298.0,308.8 L298.1,310.8 L298.2,313.2 L298.4,313.4 L298.5,311.8 L298.6,309.7 L298.8,307.3 L298.9,306.5 L299.0,305.4 L299.1,305.5 L299.2,301.0 L299.4,303.9 L299.5,306.8 L299.6,305.7 L299.8,305.8 L299.9,305.6 L300.0,305.0 L300.1,304.4 L300.2,304.0 L300.4,302.3 L300.5,302.4 L300.6,302.1 L300.8,302.5 L300.9,300.8 L301.0,300.6 L301.1,300.5 L301.2,301.3 L301.4,299.2 L301.5,299.7 L301.6,301.1 L301.8,301.9 L301.9,301.1 L302.0,300.0 L302.1,300.6 L302.2,302.9 L302.4,306.5 L302.5,307.2 L302.6,307.2 L302.8,308.8 L302.9,310.2 L303.0,309.6 L303.1,309.4 L303.2,310.2 L303.4,312.4 L303.5,311.4 L303.6,310.6 L303.8,312.5 L303.9,311.3 L304.0,312.3 L304.1,313.7 L304.2,314.4 L304.4,313.5 L304.5,314.3 L304.6,314.6 L304.8,316.0 L304.9,315.4 L305.0,318.1 L305.1,316.1 L305.2,316.7 L305.4,317.5 L305.5,320.0 L305.6,319.7 L305.8,321.4 L305.9,321.2 L306.0,323.2 L306.1,326.9 L306.2,327.0 L306.4,328.5 L306.5,327.6 L306.6,330.1 L306.8,332.9 L306.9,333.7 L307.0,332.5 L307.1,333.0 L307.2,334.7 L307.4,336.4 L307.5,337.5 L307.6,334.2 L307.8,332.9 L307.9,335.1 L308.0,332.8 L308.1,334.5 L308.2,337.5 L308.4,337.4 L308.5,338.0 L308.6,336.0 L308.8,332.6 L308.9,331.0 L309.0,329.3 L309.1,327.9 L309.2,327.7 L309.4,326.0 L309.5,325.0 L309.6,326.2 L309.8,326.6 L309.9,330.1 L310.0,331.3 L310.1,331.9 L310.2,332.0 L310.4,331.4 L310.5,334.1 L310.6,334.8 L310.8,333.4 L310.9,332.8 L311.0,333.0 L311.1,332.7 L311.2,335.0 L311.4,333.1 L311.5,334.1 L311.6,334.4 L311.8,332.5 L311.9,332.7 L312.0,332.7 L312.1,333.6 L312.2,332.9 L312.4,333.6 L312.5,330.8 L312.6,329.1 L312.8,330.5 L312.9,332.4 L313.0,332.5 L313.1,331.2 L313.2,332.7 L313.4,328.9 L313.5,327.2 L313.6,328.1 L313.8,328.9 L313.9,326.8 L314.0,323.3 L314.1,325.5 L314.2,325.4 L314.4,323.6 L314.5,323.4 L314.6,324.7 L314.8,320.0 L314.9,321.5 L315.0,322.5 L315.1,318.2 L315.2,318.7 L315.4,314.8 L315.5,316.0 L315.6,315.9 L315.8,318.9 L315.9,317.1 L316.0,316.3 L316.1,317.2 L316.2,315.4 L316.4,313.4 L316.5,311.9 L316.6,311.0 L316.8,308.4 L316.9,308.4 L317.0,308.5 L317.1,307.8 L317.2,309.9 L317.4,308.6 L317.5,310.0 L317.6,310.3 L317.8,312.9 L317.9,310.8 L318.0,312.4 L318.1,313.4 L318.2,313.8 L318.4,314.0 L318.5,314.7 L318.6,314.7 L318.8,312.2 L318.9,312.5 L319.0,312.8 L319.1,313.2 L319.2,312.6 L319.4,313.7 L319.5,316.2 L319.6,314.8 L319.8,312.9 L319.9,314.2 L320.0,314.8 L320.1,315.3 L320.2,316.3 L320.4,314.7 L320.5,313.4 L320.6,314.3 L320.8,312.3 L320.9,311.1 L321.0,310.7 L321.1,310.3 L321.2,308.8 L321.4,311.1 L321.5,311.5 L321.6,313.4 L321.8,315.8 L321.9,317.6 L322.0,319.6 L322.1,318.2 L322.2,316.7 L322.4,316.3 L322.5,317.8 L322.6,321.0 L322.8,319.6 L322.9,320.8 L323.0,320.0 L323.1,318.7 L323.2,318.1 L323.4,319.2 L323.5,319.5 L323.6,321.5 L323.8,319.7 L323.9,321.2 L324.0,322.7 L324.1,322.7 L324.2,323.4 L324.4,322.4 L324.5,320.5 L324.6,319.7 L324.8,318.6 L324.9,323.4 L325.0,322.5 L325.1,324.9 L325.2,324.7 L325.4,324.8 L325.5,325.6 L325.6,323.9 L325.8,325.0 L325.9,325.2 L326.0,322.1 L326.1,322.7 L326.2,323.2 L326.4,323.5 L326.5,325.7 L326.6,324.6 L326.8,325.0 L326.9,326.4 L327.0,325.1 L327.1,327.3 L327.2,325.0 L327.4,323.0 L327.5,324.0 L327.6,322.4 L327.8,322.3 L327.9,319.7 L328.0,320.0 L328.1,318.2 L328.2,319.0 L328.4,316.6 L328.5,317.5 L328.6,317.2 L328.8,317.5 L328.9,318.0 L329.0,318.7 L329.1,317.1 L329.2,313.3 L329.4,313.9 L329.5,312.9 L329.6,312.7 L329.8,314.0 L329.9,311.1 L330.0,310.4 L330.1,309.9 L330.2,308.7 L330.4,309.8 L330.5,310.2 L330.6,309.3 L330.8,308.2 L330.9,310.2 L331.0,309.6 L331.1,311.2 L331.2,312.5 L331.4,309.1 L331.5,307.0 L331.6,306.8 L331.8,307.2 L331.9,308.3 L332.0,309.5 L332.1,311.1 L332.2,310.2 L332.4,309.7 L332.5,310.8 L332.6,309.9 L332.8,311.4 L332.9,308.5 L333.0,309.5 L333.1,309.0 L333.2,305.4 L333.4,306.9 L333.5,307.2 L333.6,307.0 L333.8,305.0 L333.9,304.4 L334.0,307.2 L334.1,306.0 L334.2,300.3 L334.4,299.1 L334.5,297.3 L334.6,297.3 L334.8,296.8 L334.9,295.5 L335.0,294.3 L335.1,296.3 L335.2,294.0 L335.4,297.6 L335.5,296.9 L335.6,295.2 L335.8,296.8 L335.9,298.0 L336.0,296.4 L336.1,297.9 L336.2,295.0 L336.4,292.6 L336.5,293.6 L336.6,292.3 L336.8,289.3 L336.9,289.3 L337.0,290.0 L337.1,289.1 L337.2,285.2 L337.4,283.7 L337.5,283.6 L337.6,284.0 L337.8,286.3 L337.9,285.0 L338.0,283.4 L338.1,282.4 L338.2,283.6 L338.4,281.2 L338.5,282.5 L338.6,277.0 L338.8,277.5 L338.9,275.5 L339.0,275.4 L339.1,275.7 L339.2,272.8 L339.4,271.8 L339.5,271.4 L339.6,271.5 L339.8,269.1 L339.9,266.5 L340.0,262.4 L340.1,265.8 L340.2,264.6 L340.4,263.4 L340.5,260.0 L340.6,260.1 L340.8,257.7 L340.9,258.7 L341.0,258.7 L341.1,257.3 L341.2,257.1 L341.4,253.7 L341.5,251.7 L341.6,249.3 L341.8,245.6 L341.9,244.2 L342.0,242.5 L342.1,247.0 L342.2,243.5 L342.4,244.4 L342.5,245.0 L342.6,246.3 L342.8,249.1 L342.9,251.9 L343.0,254.1 L343.1,255.4 L343.2,258.3 L343.4,261.0 L343.5,260.0 L343.6,258.5 L343.8,255.2 L343.9,252.2 L344.0,251.4 L344.1,250.5 L344.2,249.7 L344.4,247.2 L344.5,245.8 L344.6,243.2 L344.8,242.9 L344.9,243.0 L345.0,245.0 L345.1,248.1 L345.2,247.6 L345.4,247.7 L345.5,247.0 L345.6,248.4 L345.8,252.7 L345.9,254.8 L346.0,252.0 L346.1,250.8 L346.2,249.5 L346.4,251.2 L346.5,252.2 L346.6,253.6 L346.8,257.5 L346.9,257.4 L347.0,257.3 L347.1,261.9 L347.2,263.8 L347.4,263.8 L347.5,261.7 L347.6,260.4 L347.8,257.6 L347.9,259.0 L348.0,260.4 L348.1,263.4 L348.2,264.5 L348.4,264.6 L348.5,264.6 L348.6,269.2 L348.8,267.5 L348.9,266.6 L349.0,265.5 L349.1,265.3 L349.2,263.4 L349.4,263.1 L349.5,263.3 L349.6,261.8 L349.8,259.9 L349.9,258.3 L350.0,255.5 L350.1,254.0 L350.2,252.3 L350.4,251.4 L350.5,252.5 L350.6,254.0 L350.8,252.6 L350.9,252.9 L351.0,252.7 L351.1,253.4 L351.2,252.7 L351.4,252.5 L351.5,251.0 L351.6,249.0 L351.8,249.8 L351.9,251.3 L352.0,251.7 L352.1,251.8 L352.2,251.5 L352.4,250.1 L352.5,246.4 L352.6,246.8 L352.8,246.5 L352.9,244.8 L353.0,242.5 L353.1,244.3 L353.2,240.8 L353.4,243.4 L353.5,244.1 L353.6,247.7 L353.8,246.1 L353.9,245.7 L354.0,244.4 L354.1,244.3 L354.2,243.5 L354.4,241.8 L354.5,243.3 L354.6,241.5 L354.8,240.3 L354.9,240.8 L355.0,239.5 L355.1,238.3 L355.2,238.5 L355.4,237.5 L355.5,235.0 L355.6,234.0 L355.8,232.8 L355.9,234.9 L356.0,232.2 L356.1,233.0 L356.2,230.8 L356.4,229.4 L356.5,228.0 L356.6,227.7 L356.8,228.3 L356.9,230.5 L357.0,228.6 L357.1,230.0 L357.2,230.9 L357.4,231.4 L357.5,229.3 L357.6,230.0 L357.8,229.0 L357.9,228.8 L358.0,227.5 L358.1,228.4 L358.2,230.0 L358.4,231.6 L358.5,231.0 L358.6,232.5 L358.8,234.7 L358.9,232.8 L359.0,235.0 L359.1,232.5 L359.2,233.1 L359.4,233.9 L359.5,236.1 L359.6,236.4 L359.8,235.3 L359.9,233.6 L360.0,231.2 L360.1,231.1 L360.2,229.3 L360.4,226.7 L360.5,226.2 L360.6,223.5 L360.8,221.4 L360.9,219.2 L361.0,220.6 L361.1,221.7 L361.2,220.0 L361.4,218.2 L361.5,219.5 L361.6,220.5 L361.8,222.0 L361.9,223.8 L362.0,224.1 L362.1,226.6 L362.2,228.8 L362.4,230.1 L362.5,230.2 L362.6,230.3 L362.8,232.3 L362.9,231.3 L363.0,231.9 L363.1,231.5 L363.2,230.0 L363.4,231.9 L363.5,232.7 L363.6,233.6 L363.8,236.0 L363.9,233.0 L364.0,232.5 L364.1,232.5 L364.2,233.5 L364.4,231.2 L364.5,231.9 L364.6,231.9 L364.8,233.7 L364.9,235.2 L365.0,235.7 L365.1,238.9 L365.2,238.5 L365.4,237.3 L365.5,236.3 L365.6,234.2 L365.8,233.7 L365.9,230.1 L366.0,229.5 L366.1,229.8 L366.2,231.0 L366.4,230.4 L366.5,232.8 L366.6,231.7 L366.8,231.5 L366.9,228.4 L367.0,227.1 L367.1,225.8 L367.2,228.3 L367.4,229.2 L367.5,227.4 L367.6,228.3 L367.8,229.1 L367.9,228.8 L368.0,228.8 L368.1,228.4 L368.2,227.5 L368.4,224.6 L368.5,224.4 L368.6,226.6 L368.8,229.0 L368.9,228.5 L369.0,227.2 L369.1,226.7 L369.2,228.2 L369.4,228.7 L369.5,227.6 L369.6,228.2 L369.8,227.8 L369.9,228.5 L370.0,227.8 L370.1,225.3 L370.2,225.3 L370.4,226.5 L370.5,224.6 L370.6,224.4 L370.8,225.7 L370.9,225.0 L371.0,223.9 L371.1,227.2 L371.2,228.5 L371.4,229.5 L371.5,227.3 L371.6,229.4 L371.8,226.0 L371.9,224.4 L372.0,225.0 L372.1,226.6 L372.2,224.4 L372.4,222.6 L372.5,222.3 L372.6,218.4 L372.8,218.8 L372.9,219.1 L373.0,217.7 L373.1,217.9 L373.2,218.5 L373.4,218.4 L373.5,218.6 L373.6,220.4 L373.8,219.0 L373.9,218.6 L374.0,217.0 L374.1,218.0 L374.2,216.7 L374.4,216.7 L374.5,216.3 L374.6,215.7 L374.8,217.8 L374.9,217.0 L375.0,218.6 L375.1,219.3 L375.2,220.8 L375.4,219.8 L375.5,220.6 L375.6,221.2 L375.8,219.5 L375.9,219.2 L376.0,218.3 L376.1,217.6 L376.2,219.0 L376.4,217.6 L376.5,214.7 L376.6,211.6 L376.8,210.7 L376.9,209.4 L377.0,209.2 L377.1,210.0 L377.2,212.7 L377.4,213.0 L377.5,213.5 L377.6,212.1 L377.8,212.9 L377.9,214.9 L378.0,216.9 L378.1,213.5 L378.2,214.8 L378.4,217.2 L378.5,218.3 L378.6,215.7 L378.8,215.0 L378.9,216.0 L379.0,216.8 L379.1,215.5 L379.2,214.2 L379.4,215.8 L379.5,213.7 L379.6,216.1 L379.8,216.2 L379.9,216.8 L380.0,214.7 L380.1,213.8 L380.2,215.0 L380.4,212.7 L380.5,216.1 L380.6,213.9 L380.8,212.0 L380.9,212.1 L381.0,213.0 L381.1,214.3 L381.2,213.8 L381.4,213.6 L381.5,213.4 L381.6,212.7 L381.8,208.7 L381.9,210.4 L382.0,211.0 L382.1,211.5 L382.2,210.7 L382.4,211.3 L382.5,211.5 L382.6,211.5 L382.8,213.5 L382.9,210.9 L383.0,211.5 L383.1,210.0 L383.2,209.7 L383.4,212.3 L383.5,210.7 L383.6,210.8 L383.8,210.0 L383.9,211.6 L384.0,210.0 L384.1,207.3 L384.2,208.2 L384.4,207.6 L384.5,207.1 L384.6,208.9 L384.8,207.5 L384.9,207.0 L385.0,207.2 L385.1,207.9 L385.2,207.1 L385.4,208.9 L385.5,212.5 L385.6,211.9 L385.8,215.0 L385.9,210.9 L386.0,212.6 L386.1,211.5 L386.2,211.1 L386.4,209.9 L386.5,208.3 L386.6,205.6 L386.8,204.3 L386.9,205.8 L387.0,207.1 L387.1,205.9 L387.2,204.5 L387.4,202.7 L387.5,200.1 L387.6,202.5 L387.8,203.0 L387.9,202.5 L388.0,201.1 L388.1,198.9 L388.2,200.4 L388.4,201.1 L388.5,198.9 L388.6,199.9 L388.8,197.5 L388.9,198.6 L389.0,197.1 L389.1,196.5 L389.2,197.4 L389.4,198.2 L389.5,199.9 L389.6,198.6 L389.8,201.2 L389.9,203.5 L390.0,203.5 L390.1,204.4 L390.2,203.2 L390.4,203.0 L390.5,200.9 L390.6,201.1 L390.8,201.5 L390.9,203.8 L391.0,205.4 L391.1,206.8 L391.2,206.2 L391.4,206.2 L391.5,205.9 L391.6,206.6 L391.8,203.7 L391.9,205.3 L392.0,203.0 L392.1,202.5 L392.2,202.8 L392.4,202.3 L392.5,205.3 L392.6,205.4 L392.8,208.3 L392.9,210.5 L393.0,210.0 L393.1,210.6 L393.2,212.6 L393.4,211.9 L393.5,212.0 L393.6,211.0 L393.8,211.0 L393.9,210.3 L394.0,210.3 L394.1,211.9 L394.2,214.0 L394.4,214.2 L394.5,214.4 L394.6,215.7 L394.8,215.1 L394.9,213.3 L395.0,215.0 L395.1,213.2 L395.2,214.4 L395.4,212.5 L395.5,215.2 L395.6,213.2 L395.8,214.3 L395.9,216.5 L396.0,214.6 L396.1,216.7 L396.2,215.1 L396.4,211.9 L396.5,212.8 L396.6,213.6 L396.8,213.0 L396.9,208.6 L397.0,208.2 L397.1,207.4 L397.2,206.5 L397.4,205.7 L397.5,202.5 L397.6,200.3 L397.8,202.0 L397.9,203.2 L398.0,201.4 L398.1,198.9 L398.2,198.3 L398.4,198.8 L398.5,198.7 L398.6,195.5 L398.8,194.5 L398.9,193.5 L399.0,194.5 L399.1,195.2 L399.2,194.8 L399.4,195.5 L399.5,193.6 L399.6,194.9 L399.8,192.9 L399.9,192.3 L400.0,192.5 L400.1,190.8 L400.2,189.5 L400.4,186.5 L400.5,186.6 L400.6,186.3 L400.8,185.6 L400.9,186.3 L401.0,182.6 L401.1,182.4 L401.2,182.4 L401.4,181.8 L401.5,182.9 L401.6,185.6 L401.8,184.7 L401.9,183.0 L402.0,181.8 L402.1,181.8 L402.2,182.6 L402.4,181.0 L402.5,182.5 L402.6,180.3 L402.8,181.0 L402.9,181.1 L403.0,181.3 L403.1,184.3 L403.2,183.3 L403.4,182.4 L403.5,182.6 L403.6,183.5 L403.8,180.7 L403.9,180.6 L404.0,178.8 L404.1,179.2 L404.2,180.9 L404.4,180.4 L404.5,179.7 L404.6,179.4 L404.8,174.0 L404.9,174.7 L405.0,175.0 L405.1,175.2 L405.2,174.5 L405.4,173.3 L405.5,172.9 L405.6,174.8 L405.8,174.6 L405.9,176.8 L406.0,172.5 L406.1,171.7 L406.2,172.1 L406.4,172.0 L406.5,169.2 L406.6,168.1 L406.8,170.1 L406.9,167.9 L407.0,166.2 L407.1,165.8 L407.2,166.1 L407.4,168.5 L407.5,170.7 L407.6,168.7 L407.8,172.4 L407.9,172.7 L408.0,173.1 L408.1,177.1 L408.2,178.2 L408.4,177.5 L408.5,177.7 L408.6,177.9 L408.8,177.5 L408.9,176.3 L409.0,177.2 L409.1,177.1 L409.2,174.3 L409.4,178.2 L409.5,176.0 L409.6,175.6 L409.8,175.0 L409.9,175.6 L410.0,174.5 L410.1,174.6 L410.2,177.5 L410.4,177.0 L410.5,174.6 L410.6,174.6 L410.8,172.6 L410.9,171.4 L411.0,171.1 L411.1,171.1 L411.2,170.0 L411.4,171.0 L411.5,170.4 L411.6,167.9 L411.8,169.0 L411.9,168.0 L412.0,169.6 L412.1,168.2 L412.2,168.8 L412.4,169.0 L412.5,164.2 L412.6,161.4 L412.8,159.2 L412.9,161.2 L413.0,157.8 L413.1,158.9 L413.2,160.3 L413.4,160.8 L413.5,161.5 L413.6,160.4 L413.8,160.0 L413.9,160.3 L414.0,161.0 L414.1,162.1 L414.2,161.7 L414.4,160.5 L414.5,159.5 L414.6,160.1 L414.8,157.4 L414.9,155.3 L415.0,154.5 L415.1,153.6 L415.2,153.1 L415.4,148.7 L415.5,148.1 L415.6,147.6 L415.8,148.9 L415.9,145.6 L416.0,145.0 L416.1,145.8 L416.2,146.5 L416.4,147.8 L416.5,148.9 L416.6,146.6 L416.8,147.0 L416.9,145.8 L417.0,143.9 L417.1,145.8 L417.2,144.1 L417.4,142.1 L417.5,140.8 L417.6,138.8 L417.8,139.8 L417.9,139.8 L418.0,141.5 L418.1,142.6 L418.2,142.1 L418.4,144.3 L418.5,143.7 L418.6,143.4 L418.8,143.6 L418.9,144.2 L419.0,146.6 L419.1,146.1 L419.2,147.1 L419.4,147.6 L419.5,146.0 L419.6,144.5 L419.8,144.5 L419.9,145.5 L420.0,146.3 L420.1,147.5 L420.2,147.9 L420.4,147.5 L420.5,148.5 L420.6,147.2 L420.8,145.3 L420.9,145.1 L421.0,143.1 L421.1,142.6 L421.2,141.7 L421.4,141.1 L421.5,141.3 L421.6,140.4 L421.8,140.0 L421.9,137.6 L422.0,138.3 L422.1,137.3 L422.2,138.4 L422.4,134.2 L422.5,133.3 L422.6,134.1 L422.8,130.5 L422.9,130.4 L423.0,131.0 L423.1,131.5 L423.2,129.5 L423.4,130.3 L423.5,131.0 L423.6,128.5 L423.8,128.8 L423.9,127.8 L424.0,126.9 L424.1,125.2 L424.2,125.2 L424.4,124.4 L424.5,125.3 L424.6,125.2 L424.8,123.2 L424.9,121.9 L425.0,122.5 L425.1,121.6 L425.2,121.9 L425.4,122.5 L425.5,121.9 L425.6,117.8 L425.8,117.7 L425.9,117.8 L426.0,117.7 L426.1,116.1 L426.2,117.8 L426.4,117.3 L426.5,116.0 L426.6,115.8 L426.8,117.3 L426.9,116.5 L427.0,115.8 L427.1,120.0 L427.2,123.1 L427.4,125.8 L427.5,129.0 L427.6,130.9 L427.8,129.1 L427.9,132.0 L428.0,135.0 L428.1,137.1 L428.2,135.2 L428.4,138.6 L428.5,142.1 L428.6,142.7 L428.7,144.2 L428.9,146.8 L429.0,148.0 L429.1,151.1 L429.2,152.5 L429.3,155.0 L429.5,156.4 L429.6,155.3 L429.7,155.0 L429.8,157.8 L430.0,155.8 L430.1,155.6 L430.2,155.1 L430.3,155.5 L430.5,154.0 L430.6,150.6 L430.7,148.2 L430.9,142.6 L431.0,139.9 L431.1,139.0 L431.2,133.0 L431.4,132.0 L431.5,132.0 L431.6,132.9 L431.8,130.0 L431.9,127.6 L432.0,123.2 L432.1,120.2 L432.2,119.7 L432.4,121.8 L432.5,118.6 L432.6,119.5 L432.8,118.9 L432.9,116.7 L433.0,119.0 L433.1,114.8 L433.2,114.7 L433.4,115.0 L433.5,118.5 L433.6,121.5 L433.8,125.2 L433.9,125.4 L434.0,127.0 L434.1,129.2 L434.2,130.0 L434.4,130.6 L434.5,130.3 L434.6,129.6 L434.8,127.5 L434.9,129.9 L435.0,128.4 L435.1,124.1 L435.2,123.8 L435.4,122.9 L435.5,122.4 L435.6,124.6 L435.8,123.6 L435.9,122.4 L436.0,120.3 L436.1,119.5 L436.2,118.0 L436.4,117.5 L436.5,121.9 L436.6,121.7 L436.8,119.5 L436.9,121.7 L437.0,122.2 L437.1,122.6 L437.2,122.8 L437.4,123.2 L437.5,123.3 L437.6,124.7 L437.8,125.4 L437.9,126.7 L438.0,124.9 L438.1,123.9 L438.2,121.7 L438.4,122.3 L438.5,122.7 L438.6,121.0 L438.8,121.0 L438.9,124.9 L439.0,126.5 L439.1,124.2 L439.2,123.7 L439.4,124.3 L439.5,123.8 L439.6,124.0 L439.8,125.5 L439.9,125.6 L440.0,123.4 L440.1,124.1 L440.2,123.5 L440.4,123.3 L440.5,121.9 L440.6,119.2 L440.8,116.7 L440.9,115.7 L441.0,113.5 L441.1,108.5 L441.2,110.0 L441.4,107.9 L441.5,106.6 L441.6,107.2 L441.8,103.2 L441.9,105.0 L442.0,103.3 L442.1,103.8 L442.3,102.5 L442.4,102.4 L442.5,102.1 L442.6,101.5 L442.8,98.1 L442.9,95.3 L443.0,94.7 L443.1,96.4 L443.3,95.0 L443.4,95.3 L443.5,95.0 L443.6,95.2 L443.8,96.2 L443.9,93.6 L444.0,93.7 L444.1,93.2 L444.2,92.4 L444.4,90.7 L444.5,89.2 L444.6,87.3 L444.8,85.3 L444.9,88.9 L445.0,91.2 L445.1,92.8 L445.3,95.5 L445.4,95.5 L445.5,92.7 L445.6,91.4 L445.8,93.2 L445.9,96.9 L446.0,98.4 L446.1,98.4 L446.3,99.5 L446.4,99.5 L446.5,98.9 L446.6,100.1 L446.8,101.0 L446.9,101.2 L447.0,99.0 L447.1,96.8 L447.3,96.3 L447.4,97.6 L447.5,96.5 L447.6,99.1 L447.8,95.8 L447.9,95.4 L448.0,92.7 L448.1,91.7 L448.3,91.0 L448.4,91.0 L448.5,92.0 L448.6,90.3 L448.8,87.5 L448.9,86.8 L449.0,86.9 L449.1,85.4 L449.2,86.5 L449.4,88.7 L449.5,86.1 L449.6,86.3 L449.7,87.5 L449.9,84.1 L450.0,84.1 L450.1,83.3 L450.2,80.7 L450.4,82.4 L450.5,82.4 L450.6,81.2 L450.7,83.2 L450.9,85.4 L451.0,87.8 L451.1,90.0 L451.2,91.8 L451.4,91.2 L451.5,91.8 L451.6,93.3 L451.7,90.2 L451.9,94.7 L452.0,95.4 L452.1,95.0 L452.2,93.3 L452.4,95.0 L452.5,96.2 L452.6,93.9 L452.8,91.9 L452.9,89.1 L453.0,86.6 L453.1,85.0 L453.2,82.6 L453.4,82.3 L453.5,80.7 L453.6,79.5 L453.8,78.8 L453.9,80.4 L454.0,80.9 L454.1,80.9 L454.2,80.3 L454.4,78.6 L454.5,77.7 L454.6,78.4 L454.7,78.4 L454.9,77.4 L455.0,75.0 L455.1,72.2 L455.2,72.3 L455.4,73.6 L455.5,73.8 L455.6,71.2 L455.7,70.6 L455.9,70.6 L456.0,68.8 L456.1,69.0 L456.2,68.3 L456.4,66.7 L456.5,64.4 L456.6,65.3 L456.8,65.5 L456.9,63.8 L457.0,62.6 L457.1,64.4 L457.3,65.8 L457.4,65.8 L457.5,68.7 L457.6,68.7 L457.8,67.5 L457.9,69.6 L458.0,69.8 L458.1,70.8 L458.3,71.3 L458.4,70.2 L458.5,68.8 L458.6,67.9 L458.8,69.6 L458.9,67.5 L459.0,69.0 L459.1,68.8 L459.2,66.6 L459.4,66.4 L459.5,66.8 L459.6,64.9 L459.8,61.0 L459.9,61.0 L460.0,58.8 L460.1,59.8 L460.2,57.2 L460.4,57.3 L460.5,56.4 L460.6,54.4 L460.8,54.4 L460.9,55.0 L461.0,54.5 L461.1,53.0 L461.2,53.7 L461.4,51.3 L461.5,52.5 L461.6,52.4 L461.7,54.2 L461.9,54.8 L462.0,54.5 L462.1,54.1 L462.2,53.4 L462.4,50.5 L462.5,51.9 L462.6,52.0 L462.7,50.7 L462.9,48.1 L463.0,49.6 L463.1,49.6 L463.2,47.4 L463.4,48.1 L463.5,50.7 L463.6,50.3 L463.8,50.5 L463.9,49.5 L464.0,48.2 L464.1,49.5 L464.3,53.9 L464.4,53.8 L464.5,54.4 L464.6,56.5 L464.8,56.9 L464.9,58.9 L465.0,61.1 L465.1,60.3 L465.2,59.5 L465.4,60.3 L465.5,62.5 L465.6,63.8 L465.7,66.9 L465.9,66.0 L466.0,68.1 L466.1,68.3 L466.2,69.8 L466.4,71.5 L466.5,71.2 L466.6,73.7 L466.7,74.6 L466.9,77.8 L467.0,79.2 L467.1,81.2 L467.2,79.1 L467.4,75.5 L467.5,74.7 L467.6,71.2 L467.8,70.0 L467.9,71.0 L468.0,69.9 L468.1,70.0 L468.2,69.3 L468.4,69.2 L468.5,69.3 L468.6,72.6 L468.8,72.5 L468.9,73.9 L469.0,73.6 L469.1,70.5 L469.2,65.9 L469.4,65.9 L469.5,61.8 L469.6,61.9 L469.8,62.5 L469.9,63.4 L470.0,63.3 L470.1,63.2 L470.2,63.8 L470.4,63.6 L470.5,63.1 L470.6,62.8 L470.8,64.8 L470.9,64.1 L471.0,65.0 L471.1,62.8 L471.2,61.3 L471.4,58.7 L471.5,58.0 L471.6,58.6 L471.8,58.7 L471.9,57.5 L472.0,58.0 L472.1,57.0 L472.2,57.2 L472.4,57.8 L472.5,58.8 L472.6,55.2 L472.8,53.3 L472.9,54.7 L473.0,54.7 L473.1,58.4 L473.2,58.2 L473.4,57.5 L473.5,60.0 L473.6,62.1 L473.8,66.4 L473.9,68.5 L474.0,69.4 L474.1,71.8 L474.3,71.9 L474.4,72.5 L474.5,72.1 L474.6,72.3 L474.8,74.0 L474.9,73.7 L475.0,74.7 L475.1,74.4 L475.2,76.2 L475.4,73.9 L475.5,75.5 L475.6,77.7 L475.8,78.0 L475.9,81.5 L476.0,83.8 L476.1,83.7 L476.3,83.2 L476.4,82.2 L476.5,80.0 L476.6,76.3 L476.8,74.0 L476.9,71.2 L477.0,72.9 L477.1,73.4 L477.3,79.3 L477.4,78.1 L477.5,81.1 L477.6,81.6 L477.8,82.5 L477.9,84.0 L478.0,84.2 L478.1,82.4 L478.2,83.1 L478.4,82.9 L478.5,79.9 L478.6,80.3 L478.8,78.8 L478.9,78.5 L479.0,80.1 L479.1,81.4 L479.2,81.8 L479.4,86.1 L479.5,87.6 L479.6,87.5 L479.7,90.9 L479.9,93.8 L480.0,93.5 L480.1,94.1 L480.2,95.0 L480.4,102.4 L480.5,106.3 L480.6,110.0 L480.7,109.6 L480.8,111.6 L481.0,112.2 L481.1,115.3 L481.2,117.0 L481.3,117.9 L481.5,116.1 L481.6,115.1 L481.7,112.8 L481.9,111.0 L482.0,106.7 L482.1,104.2 L482.2,101.1 L482.4,98.5 L482.5,98.8 L482.6,99.2 L482.8,101.2 L482.9,102.6 L483.0,104.1 L483.1,105.8 L483.2,104.9 L483.4,106.2 L483.5,105.8 L483.6,105.1 L483.8,107.0 L483.9,110.5 L484.0,109.1 L484.1,112.0 L484.2,113.4 L484.4,112.2 L484.5,112.8 L484.6,113.5 L484.8,114.3 L484.9,113.9 L485.0,112.0 L485.1,112.2 L485.2,113.7 L485.4,115.1 L485.5,116.2 L485.6,116.4 L485.8,113.4 L485.9,111.8 L486.0,110.8 L486.1,110.8 L486.2,109.5 L486.4,108.8 L486.5,107.5 L486.6,109.2 L486.8,104.3 L486.9,102.7 L487.0,105.0 L487.1,106.1 L487.2,103.9 L487.4,104.9 L487.5,103.4 L487.6,103.0 L487.8,104.1 L487.9,107.4 L488.0,108.8 L488.1,110.6 L488.2,112.8 L488.4,113.8 L488.5,113.2 L488.6,113.8 L488.8,115.0 L488.9,114.3 L489.0,113.1 L489.1,112.3 L489.2,109.8 L489.4,108.0 L489.5,107.6 L489.6,106.8 L489.8,106.7 L489.9,108.6 L490.0,108.8 L490.1,108.6 L490.2,106.5 L490.4,104.6 L490.5,105.0 L490.6,104.2 L490.8,105.4 L490.9,104.3 L491.0,105.1 L491.1,105.6 L491.2,107.7 L491.4,107.6 L491.5,107.6 L491.6,108.5 L491.8,109.2 L491.9,112.3 L492.0,112.5 L492.1,112.5 L492.2,112.8 L492.4,114.4 L492.5,115.6 L492.6,117.5 L492.8,116.2 L492.9,120.8 L493.0,124.5 L493.1,125.3 L493.2,124.2 L493.4,125.3 L493.5,126.8 L493.6,124.2 L493.8,125.0 L493.9,123.1 L494.0,124.2 L494.1,126.8 L494.2,128.8 L494.4,126.9 L494.5,129.4 L494.6,131.2 L494.8,131.1 L494.9,132.3 L495.0,135.0 L495.1,136.7 L495.2,138.9 L495.4,140.2 L495.5,144.2 L495.6,143.1 L495.8,147.5 L495.9,144.8 L496.0,145.0 L496.1,141.3 L496.2,138.6 L496.4,136.5 L496.5,136.5 L496.6,132.8 L496.8,132.5 L496.9,130.3 L497.0,131.0 L497.1,130.6 L497.2,131.4 L497.4,131.2 L497.5,134.0 L497.6,133.5 L497.8,133.5 L497.9,136.6 L498.0,136.8 L498.1,137.9 L498.2,136.8 L498.4,137.2 L498.5,133.7 L498.6,133.9 L498.8,133.0 L498.9,131.7 L499.0,130.6 L499.1,133.4 L499.2,135.1 L499.4,133.8 L499.5,137.6 L499.6,137.6 L499.8,138.0 L499.9,139.4 L500.0,138.7 L500.1,137.3 L500.2,137.1 L500.4,140.0 L500.5,142.5 L500.6,141.3 L500.8,144.3 L500.9,145.5 L501.0,147.5 L501.1,148.7 L501.2,150.6 L501.4,150.2 L501.5,150.0 L501.6,151.2 L501.8,153.0 L501.9,156.2 L502.0,156.6 L502.1,161.4 L502.2,162.7 L502.4,164.1 L502.5,167.5 L502.6,170.5 L502.8,172.2 L502.9,172.9 L503.0,173.6 L503.1,173.5 L503.2,177.5 L503.4,181.5 L503.5,186.6 L503.6,189.7 L503.8,192.5 L503.9,195.9 L504.0,199.6 L504.1,201.4 L504.2,204.1 L504.4,209.7 L504.5,209.3 L504.6,209.3 L504.8,210.1 L504.9,213.5 L505.0,217.5 L505.1,212.4 L505.2,208.8 L505.4,204.2 L505.5,200.0 L505.6,194.6 L505.8,190.0 L505.9,190.6 L506.0,193.0 L506.1,197.0 L506.2,194.9 L506.4,196.3 L506.5,196.9 L506.6,199.0 L506.8,201.3 L506.9,203.1 L507.0,205.0 L507.1,203.2 L507.2,200.3 L507.4,202.6 L507.5,204.2 L507.6,202.4 L507.8,204.1 L507.9,204.8 L508.0,200.7 L508.1,201.8 L508.2,200.0 L508.4,201.7 L508.5,200.5 L508.6,199.3 L508.8,196.8 L508.9,196.3 L509.0,197.8 L509.1,196.6 L509.2,193.7 L509.4,196.9 L509.5,199.6 L509.6,200.6 L509.8,199.6 L509.9,197.6 L510.0,195.0 L510.1,196.9 L510.2,199.9 L510.4,199.3 L510.5,200.3 L510.6,200.9 L510.8,201.6 L510.9,203.4 L511.0,207.6 L511.1,207.7 L511.2,210.0 L511.4,212.7 L511.5,213.3 L511.6,214.1 L511.8,213.0 L511.9,215.7 L512.0,215.9 L512.1,215.9 L512.2,217.0 L512.4,216.7 L512.5,216.1 L512.6,216.7 L512.8,220.0 L512.9,220.7 L513.0,222.5 L513.1,222.0 L513.2,220.7 L513.4,225.3 L513.5,226.4 L513.6,225.8 L513.8,227.4 L513.9,230.1 L514.0,229.2 L514.1,229.5 L514.2,231.7 L514.4,232.0 L514.5,235.0 L514.6,238.5 L514.8,241.2 L514.9,242.6 L515.0,244.6 L515.1,245.7 L515.2,247.5 L515.4,245.9 L515.5,243.3 L515.6,242.6 L515.8,244.5 L515.9,241.5 L516.0,239.9 L516.1,239.0 L516.2,237.9 L516.4,235.4 L516.5,232.5 L516.6,232.2 L516.8,231.3 L516.9,230.3 L517.0,227.2 L517.1,226.3 L517.2,225.7 L517.4,223.6 L517.5,222.8 L517.6,224.3 L517.8,219.5 L517.9,218.6 L518.0,215.0 L518.1,212.6 L518.2,211.9 L518.4,212.4 L518.5,212.2 L518.6,210.0 L518.8,207.5 L518.9,206.3 L519.0,206.0 L519.1,204.4 L519.2,201.7 L519.4,204.1 L519.5,202.5 L519.6,201.3 L519.8,199.4 L519.9,197.6 L520.0,196.6 L520.1,195.2 L520.2,195.2 L520.4,192.3 L520.5,189.1 L520.6,191.1 L520.8,190.0 L520.9,191.4 L521.0,193.4 L521.1,194.5 L521.2,194.7 L521.4,192.5 L521.5,190.3 L521.6,192.0 L521.8,193.2 L521.9,194.3 L522.0,192.0 L522.1,188.9 L522.2,187.4 L522.4,185.8 L522.5,186.2 L522.6,184.1 L522.8,186.0 L522.9,184.5 L523.0,183.1 L523.1,183.9 L523.2,183.8 L523.4,181.9 L523.5,182.6 L523.6,185.0 L523.8,182.6 L523.9,181.6 L524.0,179.4 L524.1,175.8 L524.2,176.2 L524.4,178.5 L524.5,181.1 L524.6,182.9 L524.8,181.0 L524.9,182.1 L525.0,182.2 L525.1,181.5 L525.2,180.9 L525.4,183.2 L525.5,183.9 L525.6,188.1 L525.8,190.0 L525.9,186.2 L526.0,186.7 L526.1,187.8 L526.2,187.0 L526.4,184.3 L526.5,186.2 L526.6,183.3 L526.8,182.3 L526.9,178.5 L527.0,175.7 L527.1,172.2 L527.2,173.0 L527.4,174.0 L527.5,172.5 L527.6,170.3 L527.8,170.1 L527.9,170.6 L528.0,168.1 L528.1,166.2 L528.2,165.9 L528.4,166.9 L528.5,166.9 L528.6,167.5 L528.8,165.4 L528.9,161.5 L529.0,161.8 L529.1,160.3 L529.2,160.0 L529.4,157.5 L529.5,156.3 L529.6,153.2 L529.8,153.6 L529.9,151.7 L530.0,150.6 L530.1,149.7 L530.2,149.4 L530.4,148.1 L530.5,143.5 L530.6,143.3 L530.8,147.0 L530.9,148.5 L531.0,150.2 L531.1,151.7 L531.2,151.5 L531.4,151.3 L531.5,151.0 L531.6,153.6 L531.8,155.0 L531.9,157.0 L532.0,157.0 L532.1,159.2 L532.2,159.2 L532.4,156.6 L532.5,158.6 L532.6,158.3 L532.8,159.4 L532.9,159.0 L533.0,157.8 L533.1,157.3 L533.2,154.7 L533.4,152.1 L533.5,150.0 L533.6,148.4 L533.8,145.5 L533.9,145.2 L534.0,145.5 L534.1,148.6 L534.2,151.3 L534.4,151.1 L534.5,152.4 L534.6,151.9 L534.8,152.4 L534.9,152.2 L535.0,151.2 L535.1,151.2 L535.2,148.7 L535.4,149.2 L535.5,148.7 L535.6,146.8 L535.8,146.1 L535.9,146.8 L536.0,145.6 L536.1,146.2 L536.2,147.0 L536.4,148.4 L536.5,145.6 L536.6,144.3 L536.8,144.1 L536.9,145.3 L537.0,144.7 L537.1,144.8 L537.2,141.4 L537.4,139.4 L537.5,140.9 L537.6,139.4 L537.8,141.7 L537.9,139.5 L538.0,138.0 L538.1,135.3 L538.2,136.2 L538.4,136.4 L538.5,139.4 L538.6,139.5 L538.8,139.0 L538.9,136.6 L539.0,136.3 L539.1,137.6 L539.2,138.6 L539.4,140.4 L539.5,141.6 L539.6,141.4 L539.8,142.2 L539.9,142.3 L540.0,140.0 L540.1,141.4 L540.2,141.3 L540.4,139.5 L540.5,139.4 L540.6,139.2 L540.8,139.7 L540.9,140.8 L541.0,136.8 L541.1,136.9 L541.2,138.1 L541.4,136.4 L541.5,133.8 L541.6,133.7 L541.8,133.7 L541.9,133.7 L542.0,132.1 L542.1,131.2 L542.2,131.0 L542.4,131.5 L542.5,133.6 L542.6,133.6 L542.8,132.5 L542.9,130.8 L543.0,133.0 L543.1,133.8 L543.2,134.6 L543.4,134.5 L543.5,136.3 L543.6,135.2 L543.8,136.3 L543.9,137.4 L544.0,138.8 L544.1,141.1 L544.2,141.8 L544.4,142.8 L544.5,144.6 L544.6,143.7 L544.8,144.2 L544.9,145.1 L545.0,147.1 L545.1,147.0 L545.2,148.8 L545.4,148.5 L545.5,146.1 L545.6,143.7 L545.8,141.4 L545.9,140.9 L546.0,140.4 L546.1,140.5 L546.2,140.8 L546.4,139.5 L546.5,140.0 L546.6,140.2 L546.8,140.1 L546.9,140.0 L547.0,137.8 L547.1,137.5 L547.2,135.7 L547.4,133.6 L547.5,132.5 L547.6,132.0 L547.8,131.2 L547.9,130.4 L548.0,128.9 L548.1,128.7 L548.3,127.4 L548.4,125.4 L548.5,125.0 L548.6,126.3 L548.8,125.4 L548.9,123.7 L549.0,124.9 L549.1,126.4 L549.3,125.7 L549.4,125.0 L549.5,124.7 L549.6,127.6 L549.8,127.3 L549.9,127.9 L550.0,127.9 L550.1,125.3 L550.3,123.6 L550.4,121.7 L550.5,121.7 L550.6,121.3 L550.8,122.9 L550.9,122.0 L551.0,121.9 L551.1,121.9 L551.2,122.0 L551.4,124.6 L551.5,124.9 L551.6,126.5 L551.8,128.0 L551.9,127.2 L552.0,127.9 L552.1,127.4 L552.2,127.5 L552.4,127.4 L552.5,127.2 L552.6,126.5 L552.8,128.0 L552.9,127.5 L553.0,128.0 L553.1,129.7 L553.2,130.2 L553.4,131.1 L553.5,132.5 L553.6,134.7 L553.8,137.7 L553.9,137.0 L554.0,140.2 L554.1,141.2 L554.2,140.2 L554.4,140.4 L554.5,139.8 L554.6,140.7 L554.8,140.0 L554.9,138.3 L555.0,138.2 L555.1,137.8 L555.2,136.4 L555.4,135.6 L555.5,135.0 L555.6,134.5 L555.8,134.0 L555.9,133.3 L556.0,133.8 L556.1,132.7 L556.2,133.0 L556.4,134.0 L556.5,134.4 L556.6,134.6 L556.8,134.9 L556.9,136.0 L557.0,138.2 L557.1,138.9 L557.2,139.4 L557.4,139.8 L557.5,139.5 L557.6,137.2 L557.8,137.5 L557.9,137.0 L558.0,136.3 L558.1,137.0 L558.2,137.0 L558.4,136.3 L558.5,133.8 L558.6,131.6 L558.8,131.5 L558.9,131.2 L559.0,131.6 L559.1,131.7 L559.2,131.0 L559.4,129.4 L559.5,128.0 L559.6,127.7 L559.8,126.2 L559.9,127.5 L560.0,126.3 L560.1,124.6 L560.2,124.8 L560.4,123.1 L560.5,125.4 L560.6,124.6 L560.8,124.9 L560.9,125.0 L561.0,124.4 L561.1,122.9 L561.2,121.4 L561.4,123.0 L561.5,124.7 L561.6,127.8 L561.8,126.7 L561.9,127.9 L562.0,128.5 L562.1,130.0 L562.2,130.0 L562.4,129.7 L562.5,129.6 L562.6,129.2 L562.8,129.7 L562.9,128.4 L563.0,129.0 L563.1,127.1 L563.2,127.9 L563.4,123.6 L563.5,122.5 L563.6,120.8 L563.8,120.1 L563.9,120.5 L564.0,120.5 L564.1,119.9 L564.2,121.1 L564.4,118.6 L564.5,116.9 L564.6,117.9 L564.8,117.5 L564.9,114.8 L565.0,115.0 L565.1,113.3 L565.2,114.8 L565.4,115.8 L565.5,114.9 L565.6,116.1 L565.8,114.9 L565.9,115.7 L566.0,116.1 L566.1,115.7 L566.2,113.8 L566.4,113.7 L566.5,111.4 L566.6,111.1 L566.8,109.3 L566.9,111.0 L567.0,110.2 L567.1,107.7 L567.2,108.7 L567.4,109.4 L567.5,109.1 L567.6,111.9 L567.8,113.1 L567.9,113.4 L568.0,112.9 L568.1,109.7 L568.2,110.5 L568.4,111.9 L568.5,111.4 L568.6,110.0 L568.8,110.2 L568.9,108.5 L569.0,108.8 L569.1,110.1 L569.2,112.3 L569.4,113.1 L569.5,113.8 L569.6,115.1 L569.8,117.2 L569.9,117.3 L570.0,116.4 L570.1,116.0 L570.2,115.0 L570.4,113.0 L570.5,112.0 L570.6,111.4 L570.8,110.6 L570.9,109.8 L571.0,108.4 L571.1,108.0 L571.2,108.0 L571.4,108.0 L571.5,108.8 L571.6,108.2 L571.8,107.7 L571.9,109.4 L572.0,109.4 L572.1,109.6 L572.2,109.0 L572.4,109.9 L572.5,109.2 L572.6,107.8 L572.8,107.5 L572.9,107.4 L573.0,108.8 L573.1,108.8 L573.2,109.4 L573.4,109.6 L573.5,110.4 L573.6,110.1 L573.8,111.8 L573.9,110.6 L574.0,110.6 L574.1,109.6 L574.2,110.2 L574.4,110.1 L574.5,110.4 L574.6,109.9 L574.8,108.9 L574.9,107.4 L575.0,106.9 L575.1,106.1 L575.2,106.2 L575.4,106.5 L575.5,107.4 L575.6,107.1 L575.8,106.1 L575.9,104.7 L576.0,104.6 L576.1,104.8 L576.2,106.9 L576.4,106.9 L576.5,108.8 L576.6,110.7 L576.8,109.2 L576.9,110.3 L577.0,111.4 L577.1,112.7 L577.2,112.4 L577.4,113.3 L577.5,112.5 L577.6,112.1 L577.8,111.9 L577.9,113.3 L578.0,112.4 L578.1,112.8 L578.2,112.2 L578.4,110.7 L578.5,110.3 L578.6,110.4 L578.8,108.9 L578.9,109.0 L579.0,107.5 L579.1,106.9 L579.2,107.5 L579.4,107.6 L579.5,106.9 L579.6,105.4 L579.8,105.8 L579.9,106.5 L580.0,106.4 L580.1,107.0 L580.2,105.6 L580.4,105.4 L580.5,105.3 L580.6,105.0 L580.8,103.7 L580.9,103.2 L581.0,102.7 L581.1,103.3 L581.2,103.0 L581.4,102.7 L581.5,101.2 L581.6,101.8 L581.8,102.7 L581.9,101.7 L582.0,102.0 L582.1,102.0 L582.2,101.5 L582.4,99.6 L582.5,101.2 L582.6,98.6 L582.8,98.5 L582.9,98.1 L583.0,99.5 L583.1,99.1 L583.2,99.2 L583.4,99.9 L583.5,100.5 L583.6,100.0 L583.8,100.8 L583.9,101.3 L584.0,102.5 L584.1,101.6 L584.2,101.1 L584.4,100.3 L584.5,99.0 L584.6,98.9 L584.8,99.0 L584.9,100.3 L585.0,99.6 L585.1,99.7 L585.2,100.6 L585.4,100.9 L585.5,101.4 L585.6,102.0 L585.8,101.6 L585.9,100.9 L586.0,102.6 L586.1,103.2 L586.2,103.5 L586.4,102.5 L586.5,103.1 L586.6,104.0 L586.8,102.2 L586.9,100.7 L587.0,101.5 L587.1,102.7 L587.2,104.0 L587.4,102.9 L587.5,103.1 L587.6,101.8 L587.8,101.9 L587.9,101.6 L588.0,101.9 L588.1,103.5 L588.2,104.0 L588.4,103.8 L588.5,104.0 L588.6,104.4 L588.8,103.9 L588.9,104.2 L589.0,105.0 L589.1,107.0 L589.2,104.8 L589.4,103.6 L589.5,102.4 L589.6,103.6 L589.8,106.6 L589.9,107.0 L590.0,107.4 L590.1,108.8 L590.2,106.2 L590.4,107.0 L590.5,104.4 L590.6,105.5 L590.8,105.8 L590.9,106.2 L591.0,107.5 L591.1,107.8 L591.2,110.0 L591.4,110.5 L591.5,111.5 L591.6,115.0 L591.8,115.0 L591.9,116.6 L592.0,116.2 L592.1,119.5 L592.2,122.5 L592.4,124.5 L592.5,127.5 L592.6,133.9 L592.8,140.0 L592.9,142.5 L593.0,145.0 L593.1,148.8 L593.2,145.1 L593.4,142.5 L593.5,141.1 L593.6,139.8 L593.8,140.0 L593.9,140.1 L594.0,138.6 L594.1,137.1 L594.2,133.7 L594.4,131.6 L594.5,130.0 L594.6,131.7 L594.8,133.8 L594.9,136.5 L595.0,137.4 L595.1,138.8 L595.2,138.8 L595.4,140.8 L595.5,140.3 L595.6,139.0 L595.8,140.6 L595.9,141.0 L596.0,142.8 L596.1,143.1 L596.2,146.2 L596.4,147.5 L596.5,148.2 L596.6,148.8 L596.8,149.1 L596.9,150.5 L597.0,153.2 L597.1,153.3 L597.2,152.5 L597.4,151.5 L597.5,151.0 L597.6,147.6 L597.7,145.1 L597.9,142.2 L598.0,141.1 L598.1,140.0 L598.2,138.4 L598.4,136.3 L598.5,136.3 L598.6,133.1 L598.8,133.1 L598.9,132.1 L599.0,133.5 L599.1,133.8 L599.3,132.4 L599.4,131.2 L599.5,131.6 L599.6,131.4 L599.8,132.1 L599.9,133.8 L600.0,132.7 L600.1,133.1 L600.2,135.4 L600.4,136.8 L600.5,136.5 L600.6,136.2 L600.7,136.2 L600.9,135.4 L601.0,137.7 L601.1,138.7 L601.2,138.9 L601.4,138.2 L601.5,138.8 L601.6,139.1 L601.8,142.1 L601.9,142.5 L602.0,143.1 L602.1,144.8 L602.3,146.1 L602.4,146.4 L602.5,144.4 L602.6,146.5 L602.7,147.7 L602.9,147.7 L603.0,148.1 L603.1,147.5 L603.2,146.9 L603.4,145.7 L603.5,146.7 L603.6,147.7 L603.8,148.4 L603.9,149.7 L604.0,150.8 L604.1,151.3 L604.3,150.8 L604.4,151.9 L604.5,152.3 L604.6,152.0 L604.8,152.5 L604.9,151.0 L605.0,148.9 L605.1,149.4 L605.2,147.8 L605.4,147.1 L605.5,145.9 L605.6,145.0 L605.7,144.7 L605.9,144.1 L606.0,142.1 L606.1,144.2 L606.2,144.4 L606.4,142.3 L606.5,141.2 L606.6,140.0 L606.8,139.1 L606.9,136.2 L607.0,136.2 L607.1,137.3 L607.3,136.4 L607.4,136.5 L607.5,136.5 L607.6,134.4 L607.7,135.1 L607.9,132.5 L608.0,131.1 L608.1,130.0 L608.2,131.2 L608.4,131.0 L608.5,130.6 L608.6,129.4 L608.8,129.3 L608.9,129.1 L609.0,129.6 L609.1,130.9 L609.3,131.5 L609.4,131.2 L609.5,130.7 L609.6,132.2 L609.8,132.1 L609.9,131.7 L610.0,133.4 L610.1,134.8 L610.2,135.1 L610.4,134.6 L610.5,133.5 L610.6,134.4 L610.7,133.0 L610.9,133.2 L611.0,131.4 L611.1,130.6 L611.2,130.1 L611.4,129.4 L611.5,128.8 L611.6,129.7 L611.8,128.9 L611.9,128.2 L612.0,128.6 L612.1,131.1 L612.2,131.5 L612.4,130.9 L612.5,130.7 L612.6,131.3 L612.8,133.1 L612.9,132.9 L613.0,133.9 L613.1,134.6 L613.2,134.6 L613.4,134.0 L613.5,134.2 L613.6,133.8 L613.8,134.9 L613.9,133.3 L614.0,135.0 L614.1,136.1 L614.2,137.1 L614.4,139.0 L614.5,140.0 L614.6,138.3 L614.8,138.7 L614.9,139.5 L615.0,139.0 L615.1,138.0 L615.2,138.8 L615.4,139.9 L615.5,140.0 L615.6,140.3 L615.8,140.3 L615.9,140.2 L616.0,140.7 L616.1,142.4 L616.2,141.2 L616.4,141.4 L616.5,143.8 L616.6,145.3 L616.8,146.6 L616.9,148.7 L617.0,148.7 L617.1,148.5 L617.2,147.8 L617.4,147.3 L617.5,148.8 L617.6,150.1 L617.8,150.1 L617.9,149.8 L618.0,150.7 L618.1,151.8 L618.2,152.5 L618.4,150.1 L618.5,149.2 L618.6,146.0 L618.8,146.0 L618.9,144.8 L619.0,143.8 L619.1,143.8 L619.2,143.6 L619.4,142.5 L619.5,141.2 L619.6,139.7 L619.8,137.4 L619.9,135.8 L620.0,136.2 L620.1,135.4 L620.2,134.8 L620.4,135.1 L620.5,136.2 L620.6,137.2 L620.8,136.3 L620.9,136.2 L621.0,136.1 L621.1,134.8 L621.2,135.0 L621.4,135.0 L621.5,136.6 L621.6,137.7 L621.8,137.4 L621.9,138.1 L622.0,138.2 L622.1,138.1 L622.2,138.1 L622.4,139.9 L622.5,140.0 L622.6,137.7 L622.8,136.4 L622.9,136.9 L623.0,138.9 L623.1,137.3 L623.2,136.5 L623.4,135.7 L623.5,133.8 L623.6,133.3 L623.8,132.4 L623.9,131.8 L624.0,133.4 L624.1,132.2 L624.2,132.2 L624.4,132.3 L624.5,130.7 L624.6,129.1 L624.8,130.0 L624.9,130.3 L625.0,129.9 L625.1,128.1 L625.2,128.5 L625.4,128.6 L625.5,130.5 L625.6,131.6 L625.8,132.0 L625.9,131.7 L626.0,131.2 L626.1,129.5 L626.2,128.8 L626.4,128.0 L626.5,127.6 L626.6,127.7 L626.8,127.0 L626.9,125.3 L627.0,125.1 L627.1,125.8 L627.2,123.8 L627.4,123.8 L627.5,124.1 L627.6,124.3 L627.8,124.5 L627.9,124.0 L628.0,123.5 L628.1,125.0 L628.2,126.5 L628.4,124.6 L628.5,121.3 L628.6,121.4 L628.8,120.3 L628.9,119.3 L629.0,117.2 L629.1,117.2 L629.2,116.7 L629.4,115.7 L629.5,116.3 L629.6,118.7 L629.8,119.9 L629.9,120.8 L630.0,120.0 L630.1,120.7 L630.2,120.5 L630.4,121.7 L630.5,122.3 L630.6,122.2 L630.8,122.7 L630.9,121.8 L631.0,122.6 L631.1,124.2 L631.2,123.8 L631.4,124.3 L631.5,122.4 L631.6,123.4 L631.8,124.3 L631.9,123.1 L632.0,124.9 L632.1,125.0 L632.2,123.0 L632.4,121.4 L632.5,122.3 L632.6,121.9 L632.8,123.1 L632.9,120.7 L633.0,120.0 L633.1,120.5 L633.2,119.1 L633.4,119.2 L633.5,118.2 L633.6,117.9 L633.8,117.7 L633.9,119.5 L634.0,117.5 L634.1,117.6 L634.2,118.4 L634.4,116.4 L634.5,115.8 L634.6,117.6 L634.8,118.1 L634.9,114.0 L635.0,113.0 L635.1,110.4 L635.2,110.0 L635.4,109.2 L635.5,108.5 L635.6,107.5 L635.8,107.8 L635.9,107.3 L636.0,106.2 L636.1,106.0 L636.2,106.4 L636.4,105.4 L636.5,106.6 L636.6,104.9 L636.8,105.5 L636.9,105.2 L637.0,107.1 L637.1,106.5 L637.2,105.9 L637.4,104.5 L637.5,106.9 L637.6,107.7 L637.8,106.6 L637.9,106.3 L638.0,105.3 L638.1,107.1 L638.3,107.6 L638.4,105.4 L638.5,105.8 L638.6,106.9 L638.8,107.0 L638.9,107.6 L639.0,107.6 L639.1,107.9 L639.3,108.2 L639.4,107.5 L639.5,108.6 L639.6,109.5 L639.8,110.1 L639.9,110.0 L640.0,109.6 L640.1,110.6 L640.2,112.2 L640.4,110.2 L640.5,110.3 L640.6,112.5 L640.7,113.7 L640.9,113.1 L641.0,114.8 L641.1,113.8 L641.2,113.1 L641.4,115.5 L641.5,115.2 L641.6,115.1 L641.7,113.4 L641.9,112.5 L642.0,111.3 L642.1,111.3 L642.2,109.5 L642.4,110.8 L642.5,110.6 L642.6,109.9 L642.8,109.2 L642.9,110.0 L643.0,111.7 L643.1,111.3 L643.2,113.1 L643.4,114.9 L643.5,116.3 L643.6,116.7 L643.8,115.0 L643.9,116.3 L644.0,116.3 L644.1,117.1 L644.2,115.5 L644.4,115.7 L644.5,116.5 L644.6,116.0 L644.8,116.8 L644.9,119.2 L645.0,120.0 L645.1,120.1 L645.2,123.6 L645.4,122.0 L645.5,121.8 L645.6,123.1 L645.8,123.3 L645.9,121.6 L646.0,122.7 L646.1,124.5 L646.2,124.4 L646.4,124.6 L646.5,123.7 L646.6,123.6 L646.8,120.4 L646.9,119.0 L647.0,119.3 L647.1,120.2 L647.2,120.2 L647.4,118.7 L647.5,117.5 L647.6,116.6 L647.8,117.6 L647.9,116.6 L648.0,116.5 L648.1,113.9 L648.3,112.0 L648.4,113.8 L648.5,113.6 L648.6,113.6 L648.8,110.9 L648.9,110.6 L649.0,112.7 L649.1,110.8 L649.3,107.9 L649.4,107.5 L649.5,107.1 L649.6,107.0 L649.8,105.7 L649.9,104.4 L650.0,103.2 L650.1,104.0 L650.2,104.1 L650.4,105.2 L650.5,104.2 L650.6,105.0 L650.7,105.6 L650.9,106.9 L651.0,109.1 L651.1,110.3 L651.2,111.0 L651.4,110.3 L651.5,111.5 L651.6,113.5 L651.8,113.9 L651.9,115.0 L652.0,114.7 L652.1,114.9 L652.3,117.0 L652.4,120.1 L652.5,121.5 L652.6,121.3 L652.8,122.5 L652.9,119.3 L653.0,117.6 L653.1,118.3 L653.2,117.2 L653.4,115.7 L653.5,115.4 L653.6,113.5 L653.8,112.5 L653.9,112.5 L654.0,112.8 L654.1,110.9 L654.2,111.5 L654.4,112.3 L654.5,109.5 L654.6,106.2 L654.8,105.0 L654.9,106.4 L655.0,106.2 L655.1,106.1 L655.2,105.7 L655.4,105.8 L655.5,104.1 L655.6,102.5 L655.8,102.0 L655.9,101.8 L656.0,101.5 L656.1,100.9 L656.2,99.4 L656.4,101.2 L656.5,102.3 L656.6,104.0 L656.8,101.7 L656.9,103.4 L657.0,101.2 L657.1,102.0 L657.2,101.8 L657.4,102.5 L657.5,102.5 L657.6,105.2 L657.7,108.5 L657.9,112.0 L658.0,114.2 L658.1,114.4 L658.2,111.4 L658.4,109.8 L658.5,106.7 L658.6,105.1 L658.8,102.5 L658.9,100.8 L659.0,101.4 L659.1,102.7 L659.2,101.9 L659.4,101.2 L659.5,101.6 L659.6,99.4 L659.8,97.8 L659.9,98.4 L660.0,98.8 L660.1,98.2 L660.2,97.3 L660.4,97.6 L660.5,96.0 L660.6,95.4 L660.8,95.1 L660.9,92.3 L661.0,93.0 L661.1,93.8 L661.2,95.0 L661.4,92.7 L661.5,90.6 L661.6,89.0 L661.8,86.9 L661.9,88.6 L662.0,86.8 L662.1,85.8 L662.2,85.4 L662.4,85.3 L662.5,86.2 L662.6,84.6 L662.8,85.2 L662.9,85.0 L663.0,83.3 L663.1,83.0 L663.2,81.0 L663.4,82.5 L663.5,81.3 L663.6,82.0 L663.8,83.1 L663.9,82.9 L664.0,82.3 L664.1,82.9 L664.2,82.2 L664.4,83.7 L664.5,84.4 L664.6,84.0 L664.8,83.6 L664.9,84.9 L665.0,83.8 L665.1,85.6 L665.2,84.7 L665.4,84.4 L665.5,83.3 L665.6,85.1 L665.8,86.0 L665.9,87.4 L666.0,88.1 L666.1,88.1 L666.2,90.0 L666.4,91.3 L666.5,92.4 L666.6,93.6 L666.8,95.0 L666.9,95.8 L667.0,96.2 L667.1,94.9 L667.2,97.8 L667.4,96.9 L667.5,95.0 L667.6,94.8 L667.8,97.7 L667.9,99.7 L668.0,99.6 L668.1,100.6 L668.2,101.2 L668.4,99.5 L668.5,99.8 L668.6,100.7 L668.8,102.7 L668.9,102.0 L669.0,100.0 L669.1,98.4 L669.2,98.9 L669.4,99.2 L669.5,99.5 L669.6,99.8 L669.7,99.6 L669.9,98.2 L670.0,98.9 L670.1,99.5 L670.2,100.3 L670.4,101.9 L670.5,100.6 L670.6,98.1 L670.7,95.0 L670.9,96.3 L671.0,94.2 L671.1,93.5 L671.2,92.4 L671.4,92.2 L671.5,94.8 L671.6,93.1 L671.8,91.8 L671.9,90.0 L672.0,89.7 L672.1,89.8 L672.3,88.2 L672.4,89.1 L672.5,89.9 L672.6,89.9 L672.7,89.3 L672.9,88.5 L673.0,86.0 L673.1,86.2 L673.2,86.1 L673.4,86.4 L673.5,88.5 L673.6,88.4 L673.7,88.7 L673.9,90.7 L674.0,93.8 L674.1,93.5 L674.2,95.3 L674.4,95.0 L674.5,96.0 L674.6,97.1 L674.8,96.3 L674.9,98.0 L675.0,100.6 L675.1,100.2 L675.2,100.0 L675.4,98.1 L675.5,99.7 L675.6,99.3 L675.8,97.3 L675.9,97.7 L676.0,95.5 L676.1,94.2 L676.2,91.2 L676.4,92.9 L676.5,95.6 L676.6,94.9 L676.8,94.3 L676.9,93.7 L677.0,93.1 L677.1,93.8 L677.2,95.6 L677.4,94.5 L677.5,95.1 L677.6,93.2 L677.8,95.0 L677.9,94.6 L678.0,93.4 L678.1,94.8 L678.3,94.4 L678.4,95.6 L678.5,96.5 L678.6,98.0 L678.8,96.8 L678.9,96.5 L679.0,96.6 L679.1,96.0 L679.3,97.4 L679.4,96.2 L679.5,97.3 L679.6,98.7 L679.8,96.3 L679.9,95.1 L680.0,93.9 L680.1,93.2 L680.2,93.5 L680.4,93.2 L680.5,93.2 L680.6,92.5 L680.7,92.2 L680.9,92.6 L681.0,93.3 L681.1,92.2 L681.2,91.9 L681.4,90.8 L681.5,90.4 L681.6,88.6 L681.7,89.5 L681.9,90.1 L682.0,89.7 L682.1,88.8 L682.2,88.6 L682.4,88.3 L682.5,87.0 L682.6,89.3 L682.7,93.5 L682.9,92.5 L683.0,91.6 L683.1,92.6 L683.2,93.8 L683.4,92.4 L683.5,90.6 L683.6,91.7 L683.8,89.9 L683.9,92.0 L684.0,91.9 L684.1,92.4 L684.2,92.9 L684.4,92.7 L684.5,93.0 L684.6,93.1 L684.8,95.0 L684.9,94.7 L685.0,94.5 L685.1,93.7 L685.2,92.8 L685.4,91.8 L685.5,91.6 L685.6,93.5 L685.8,94.6 L685.9,94.7 L686.0,96.5 L686.1,97.4 L686.2,97.5 L686.4,97.8 L686.5,97.0 L686.6,97.7 L686.8,97.8 L686.9,96.5 L687.0,95.5 L687.1,98.2 L687.2,98.9 L687.4,99.9 L687.5,100.6 L687.6,99.1 L687.8,98.6 L687.9,98.9 L688.0,97.5 L688.1,97.1 L688.2,97.3 L688.4,95.8 L688.5,95.0 L688.6,93.4 L688.8,93.3 L688.9,92.1 L689.0,92.7 L689.1,91.0 L689.2,92.2 L689.4,91.1 L689.5,89.3 L689.6,87.5 L689.8,87.5 L689.9,85.7 L690.0,87.0 L690.1,87.7 L690.2,87.5 L690.4,85.1 L690.5,84.3 L690.6,82.7 L690.8,79.8 L690.9,79.5 L691.0,81.2 L691.1,81.1 L691.2,82.6 L691.4,84.6 L691.5,84.0 L691.6,84.1 L691.8,84.9 L691.9,85.9 L692.0,85.1 L692.1,85.9 L692.2,86.2 L692.4,87.7 L692.5,86.3 L692.6,86.0 L692.8,85.8 L692.9,85.9 L693.0,87.1 L693.1,86.8 L693.2,90.3 L693.4,89.9 L693.5,91.2 L693.6,91.8 L693.8,92.3 L693.9,91.4 L694.0,89.8 L694.1,88.9 L694.2,89.0 L694.4,88.5 L694.5,88.6 L694.6,88.6 L694.8,86.9 L694.9,85.2 L695.0,86.2 L695.1,85.9 L695.2,84.3 L695.4,86.7 L695.5,86.0 L695.6,85.1 L695.8,86.4 L695.9,85.4 L696.0,84.6 L696.1,86.0 L696.2,85.3 L696.4,88.4 L696.5,88.8 L696.6,91.8 L696.8,91.8 L696.9,91.8 L697.0,91.0 L697.1,90.7 L697.2,90.0 L697.4,89.9 L697.5,90.8 L697.6,89.2 L697.8,88.1 L697.9,86.4 L698.0,88.8 L698.1,89.4 L698.2,90.1 L698.4,90.7 L698.5,92.5 L698.6,93.6 L698.8,95.2 L698.9,95.7 L699.0,96.2 L699.1,95.6 L699.2,92.9 L699.4,93.6 L699.5,91.2 L699.6,89.5 L699.8,89.7 L699.9,89.2 L700.0,89.5 L700.1,90.9 L700.2,92.5 L700.4,94.5 L700.5,94.6 L700.6,97.3 L700.8,96.6 L700.9,96.9 L701.0,98.4 L701.1,98.5 L701.2,98.8 L701.4,97.2 L701.5,97.6 L701.6,93.6 L701.8,93.9 L701.9,94.0 L702.0,92.8 L702.1,92.3 L702.2,90.0 L702.4,90.1 L702.5,92.5 L702.6,91.4 L702.8,92.9 L702.9,92.7 L703.0,92.2 L703.1,91.6 L703.2,91.3 L703.4,89.7 L703.5,88.1 L703.6,89.9 L703.8,89.8 L703.9,90.3 L704.0,90.6 L704.1,91.2 L704.2,89.5 L704.4,88.5 L704.5,89.3 L704.6,90.5 L704.7,89.3 L704.9,88.7 L705.0,87.6 L705.1,88.4 L705.2,88.8 L705.4,89.0 L705.5,88.3 L705.6,88.8 L705.7,88.7 L705.9,87.8 L706.0,88.2 L706.1,87.4 L706.2,88.4 L706.4,89.1 L706.5,88.3 L706.6,88.9 L706.7,88.9 L706.9,88.1 L707.0,87.0 L707.1,85.0 L707.2,83.3 L707.4,83.3 L707.5,84.3 L707.6,83.1 L707.7,82.9 L707.9,82.9 L708.0,83.4 L708.1,83.5 L708.2,84.5 L708.4,84.9 L708.5,83.7 L708.6,83.7 L708.8,80.6 L708.9,79.8 L709.0,79.3 L709.1,79.4 L709.2,78.5 L709.4,78.9 L709.5,79.9 L709.6,78.3 L709.8,77.2 L709.9,76.9 L710.0,76.9 L710.1,76.5 L710.2,77.0 L710.4,75.1 L710.5,75.5 L710.6,76.3 L710.8,77.1 L710.9,77.0 L711.0,76.3 L711.1,76.2 L711.2,75.6 L711.4,74.5 L711.5,74.5 L711.6,75.2 L711.8,75.3 L711.9,75.0 L712.0,75.4 L712.1,75.7 L712.2,76.5 L712.4,77.2 L712.5,78.1 L712.6,80.3 L712.8,81.6 L712.9,83.1 L713.0,82.8 L713.1,80.5 L713.2,81.1 L713.4,83.0 L713.5,83.7 L713.6,84.1 L713.8,83.8 L713.9,84.4 L714.0,83.4 L714.1,83.3 L714.2,84.3 L714.4,84.5 L714.5,86.7 L714.6,86.2 L714.8,86.9 L714.9,87.4 L715.0,86.2 L715.1,87.3 L715.2,87.7 L715.4,87.5 L715.5,88.9 L715.6,89.0 L715.8,91.9 L715.9,92.1 L716.0,92.5 L716.1,92.9 L716.3,92.6 L716.4,92.9 L716.5,92.5 L716.6,91.2 L716.8,88.7 L716.9,87.5 L717.0,89.8 L717.1,90.9 L717.3,91.7 L717.4,91.7 L717.5,92.1 L717.6,93.1 L717.7,92.1 L717.9,91.7 L718.0,91.3 L718.1,93.3 L718.2,91.2 L718.4,91.7 L718.5,90.3 L718.6,92.6 L718.7,91.6 L718.9,90.8 L719.0,91.5 L719.1,92.8 L719.2,94.2 L719.4,93.3 L719.5,94.9 L719.6,97.2 L719.8,97.4 L719.9,97.1 L720.0,96.2 L720.1,97.7 L720.2,98.3 L720.4,98.6 L720.5,97.4 L720.6,99.6 L720.7,100.9 L720.9,101.1 L721.0,103.1 L721.1,102.3 L721.2,102.2 L721.3,100.0 L721.5,100.6 L721.6,99.2 L721.7,99.6 L721.8,98.0 L721.9,97.4 L722.1,97.7 L722.2,95.6 L722.3,94.6 L722.4,94.0 L722.5,95.4 L722.7,95.2 L722.8,95.1 L722.9,95.3 L723.0,97.1 L723.2,96.3 L723.3,96.7 L723.4,96.7 L723.5,96.5 L723.7,96.0 L723.8,96.2 L723.9,96.2 L724.1,94.2 L724.2,94.3 L724.3,92.7 L724.5,92.6 L724.6,95.0 L724.7,93.7 L724.8,93.4 L725.0,92.9 L725.1,93.8 L725.2,93.8 L725.4,92.3 L725.5,91.1 L725.6,91.8 L725.7,92.7 L725.9,94.5 L726.0,94.5 L726.1,95.8 L726.2,95.1 L726.4,97.2 L726.5,97.7 L726.6,97.9 L726.7,99.0 L726.9,102.0 L727.0,101.9 L727.1,101.4 L727.2,101.2 L727.3,100.8 L727.5,101.7 L727.6,103.0 L727.7,103.8 L727.8,104.8 L727.9,106.8 L728.1,107.2 L728.2,106.5 L728.3,104.6 L728.4,105.6 L728.5,105.6 L728.7,106.0 L728.8,107.2 L728.9,108.5 L729.0,107.9 L729.1,108.1 L729.3,109.4 L729.4,110.5 L729.5,113.1 L729.6,113.8 L729.8,112.6 L729.9,115.2 L730.0,114.6 L730.1,112.4 L730.3,111.8 L730.4,109.5 L730.5,111.3 L730.7,110.5 L730.8,110.0 L730.9,110.7 L731.0,114.5 L731.2,116.3 L731.3,116.7 L731.4,119.4 L731.5,118.7 L731.7,119.2 L731.8,120.8 L731.9,121.5 L732.1,120.9 L732.2,123.2 L732.3,125.4 L732.5,124.8 L732.6,125.7 L732.7,125.5 L732.8,125.5 L733.0,127.2 L733.1,127.8 L733.2,126.9 L733.3,126.3 L733.5,124.2 L733.6,124.8 L733.7,123.2 L733.8,123.9 L734.0,122.6 L734.1,121.4 L734.2,122.3 L734.3,121.9 L734.4,120.6 L734.6,119.4 L734.7,119.5 L734.8,121.1 L734.9,121.2 L735.0,120.2 L735.2,118.3 L735.3,116.9 L735.4,116.2 L735.5,115.7 L735.6,114.1 L735.8,114.7 L735.9,112.8 L736.0,111.2 L736.1,110.9 L736.3,110.7 L736.4,109.4 L736.5,109.7 L736.6,107.2 L736.8,108.3 L736.9,110.0 L737.0,111.7 L737.1,111.2 L737.3,112.9 L737.4,112.4 L737.5,113.3 L737.6,112.5 L737.8,112.1 L737.9,112.1 L738.0,109.5 L738.1,108.7 L738.3,110.1 L738.4,106.1 L738.5,106.0 L738.6,106.8 L738.8,107.0 L738.9,106.9 L739.0,108.3 L739.1,108.4 L739.2,106.0 L739.4,104.7 L739.5,104.1 L739.6,104.0 L739.8,103.3 L739.9,102.9 L740.0,104.6 L740.1,101.4 L740.2,102.9 L740.4,104.1 L740.5,104.9 L740.6,105.1 L740.8,105.3 L740.9,105.9 L741.0,106.3 L741.1,105.6 L741.2,106.7 L741.4,105.9 L741.5,106.0 L741.6,106.0 L741.7,105.1 L741.9,106.2 L742.0,106.5 L742.1,105.6 L742.2,105.9 L742.4,104.8 L742.5,106.8 L742.6,107.8 L742.7,110.5 L742.9,110.3 L743.0,111.5 L743.1,110.8 L743.2,110.0 L743.4,110.1 L743.5,110.7 L743.6,112.0 L743.7,111.9 L743.9,113.3 L744.0,114.6 L744.1,113.8 L744.2,113.8 L744.4,112.9 L744.5,115.0 L744.6,114.6 L744.7,115.4 L744.8,116.3 L745.0,115.8 L745.1,115.1 L745.2,115.3 L745.3,114.2 L745.4,112.6 L745.6,111.3 L745.7,111.5 L745.8,111.5 L745.9,114.2 L746.1,112.9 L746.2,114.2 L746.3,113.6 L746.5,115.6 L746.6,117.1 L746.7,118.0 L746.8,120.4 L747.0,120.7 L747.1,120.8 L747.2,119.9 L747.4,119.5 L747.5,119.9 L747.6,121.0 L747.7,122.8 L747.9,122.8 L748.0,122.3 L748.1,121.7 L748.2,120.9 L748.4,120.1 L748.5,119.4 L748.6,118.1 L748.7,117.8 L748.8,117.0 L749.0,116.5 L749.1,114.7 L749.2,114.6 L749.3,115.1 L749.5,115.6 L749.6,114.8 L749.7,113.3 L749.9,111.6 L750.0,110.0 L750.1,109.1 L750.2,108.6 L750.4,106.3 L750.5,106.9 L750.6,105.0 L750.8,104.2 L750.9,103.2 L751.0,104.1 L751.1,106.1 L751.2,105.6 L751.4,105.1 L751.5,104.6 L751.6,104.8 L751.7,105.0 L751.9,108.2 L752.0,107.4 L752.1,107.7 L752.2,107.2 L752.4,108.0 L752.5,107.9 L752.6,108.9 L752.7,108.1 L752.9,110.9 L753.0,111.6 L753.1,110.0 L753.2,110.5 L753.4,109.7 L753.5,108.1 L753.6,108.3 L753.7,107.4 L753.9,107.9 L754.0,107.0 L754.1,107.7 L754.2,107.6 L754.4,107.7 L754.5,107.6 L754.6,106.9 L754.7,106.3 L754.8,106.6 L755.0,107.2 L755.1,106.5 L755.2,108.8 L755.3,110.5 L755.5,109.0 L755.6,110.0 L755.7,109.7 L755.8,109.8 L756.0,108.7 L756.1,110.3 L756.2,109.2 L756.3,108.8 L756.5,107.7 L756.6,109.6 L756.7,110.8 L756.8,109.0 L757.0,108.2 L757.1,108.3 L757.2,107.5 L757.3,106.8 L757.5,105.3 L757.6,105.3 L757.7,103.8 L757.8,104.8 L758.0,107.7 L758.1,107.4 L758.2,109.4 L758.3,109.9 L758.5,109.2 L758.6,108.9 L758.7,107.9 L758.8,108.2 L759.0,109.1 L759.1,110.2 L759.2,110.0 L759.3,108.2 L759.4,107.8 L759.6,109.3 L759.7,109.2 L759.8,108.7 L759.9,106.0 L760.1,105.1 L760.2,105.3 L760.3,103.8 L760.4,104.8 L760.5,103.5 L760.7,102.0 L760.8,100.8 L760.9,100.1 L761.0,100.6 L761.1,99.4 L761.3,96.8 L761.4,96.2 L761.5,96.2 L761.6,97.2 L761.7,95.2 L761.9,96.1 L762.0,96.1 L762.1,95.9 L762.2,94.2 L762.4,92.5 L762.5,90.7 L762.6,91.0 L762.7,90.5 L762.9,90.9 L763.0,92.2 L763.1,91.5 L763.2,91.2 L763.3,93.0 L763.5,91.3 L763.6,90.5 L763.7,89.8 L763.8,89.1 L763.9,88.9 L764.1,87.7 L764.2,88.7 L764.3,86.9 L764.4,85.5 L764.5,83.2 L764.7,81.2 L764.8,81.4 L764.9,81.7 L765.0,81.1 L765.2,81.6 L765.3,81.9 L765.4,80.8 L765.5,79.6 L765.6,78.8 L765.8,79.8 L765.9,78.1 L766.0,77.3 L766.1,76.7 L766.3,76.9 L766.4,76.2 L766.5,76.2 L766.6,74.6 L766.7,73.8 L766.9,71.2 L767.0,70.7 L767.1,72.9 L767.2,72.7 L767.3,72.4 L767.5,72.2 L767.6,71.9 L767.7,70.0 L767.8,69.5 L767.9,69.5 L768.1,70.0 L768.2,69.3 L768.3,69.4 L768.4,68.9 L768.5,67.6 L768.7,67.1 L768.8,66.5 L768.9,67.7 L769.0,69.6 L769.1,70.6 L769.3,70.7 L769.4,70.4 L769.5,69.0 L769.6,68.7 L769.8,70.8 L769.9,72.5 L770.0,73.1 L770.1,72.5 L770.2,72.2 L770.4,72.3 L770.5,72.0 L770.6,72.1 L770.7,70.9 L770.9,70.6 L771.0,69.9 L771.1,70.8 L771.2,69.3 L771.3,70.6 L771.5,70.4 L771.6,69.7 L771.7,69.7 L771.8,69.7 L771.9,69.3 L772.1,69.7 L772.2,68.9 L772.3,66.9 L772.4,66.9 L772.5,66.0 L772.7,67.1 L772.8,66.7 L772.9,63.7 L773.0,64.3 L773.1,62.7 L773.3,62.5 L773.4,64.2 L773.5,64.6 L773.6,63.4 L773.8,63.3 L773.9,61.6 L774.0,62.4 L774.1,63.0 L774.3,61.9 L774.4,62.5 L774.5,63.6 L774.6,64.5 L774.8,63.8 L774.9,63.1 L775.0,62.3 L775.2,61.3 L775.3,62.1 L775.4,62.5 L775.5,64.4 L775.7,65.2 L775.8,65.3 L775.9,64.1 L776.1,66.3 L776.2,66.9 L776.3,66.9 L776.4,65.7 L776.6,64.6 L776.7,65.3 L776.8,64.2 L776.9,64.9 L777.0,65.6 L777.2,65.1 L777.3,63.3 L777.4,63.8 L777.5,65.5 L777.7,64.7 L777.8,63.4 L777.9,64.8 L778.0,65.1 L778.2,64.5 L778.3,66.0 L778.4,65.8 L778.5,66.4 L778.7,66.1 L778.8,65.4 L778.9,64.8 L779.0,63.1 L779.2,60.3 L779.3,58.9 L779.4,59.4 L779.5,59.9 L779.6,61.5 L779.8,61.8 L779.9,62.8 L780.0,62.3 L780.1,61.8 L780.2,62.3 L780.4,61.2 L780.5,62.0 L780.6,61.4 L780.8,61.7 L780.9,60.7 L781.0,60.5 L781.1,61.6 L781.2,61.3 L781.4,60.5 L781.5,60.8" stroke="#000" stroke-width="1.8" fill="none" stroke-linejoin="round"/>
<circle cx="776.8" cy="64.9" r="16.8" stroke="#fe0000" stroke-width="2.2" fill="none"/>
<g fill="#858585"><rect x="0" y="0" width="800" height="1.5"/><rect x="0" y="518.4" width="800" height="1.6"/><rect x="0" y="0" width="1.7" height="520"/><rect x="798.3" y="0" width="1.7" height="520"/></g>
</svg>
</body></html>
